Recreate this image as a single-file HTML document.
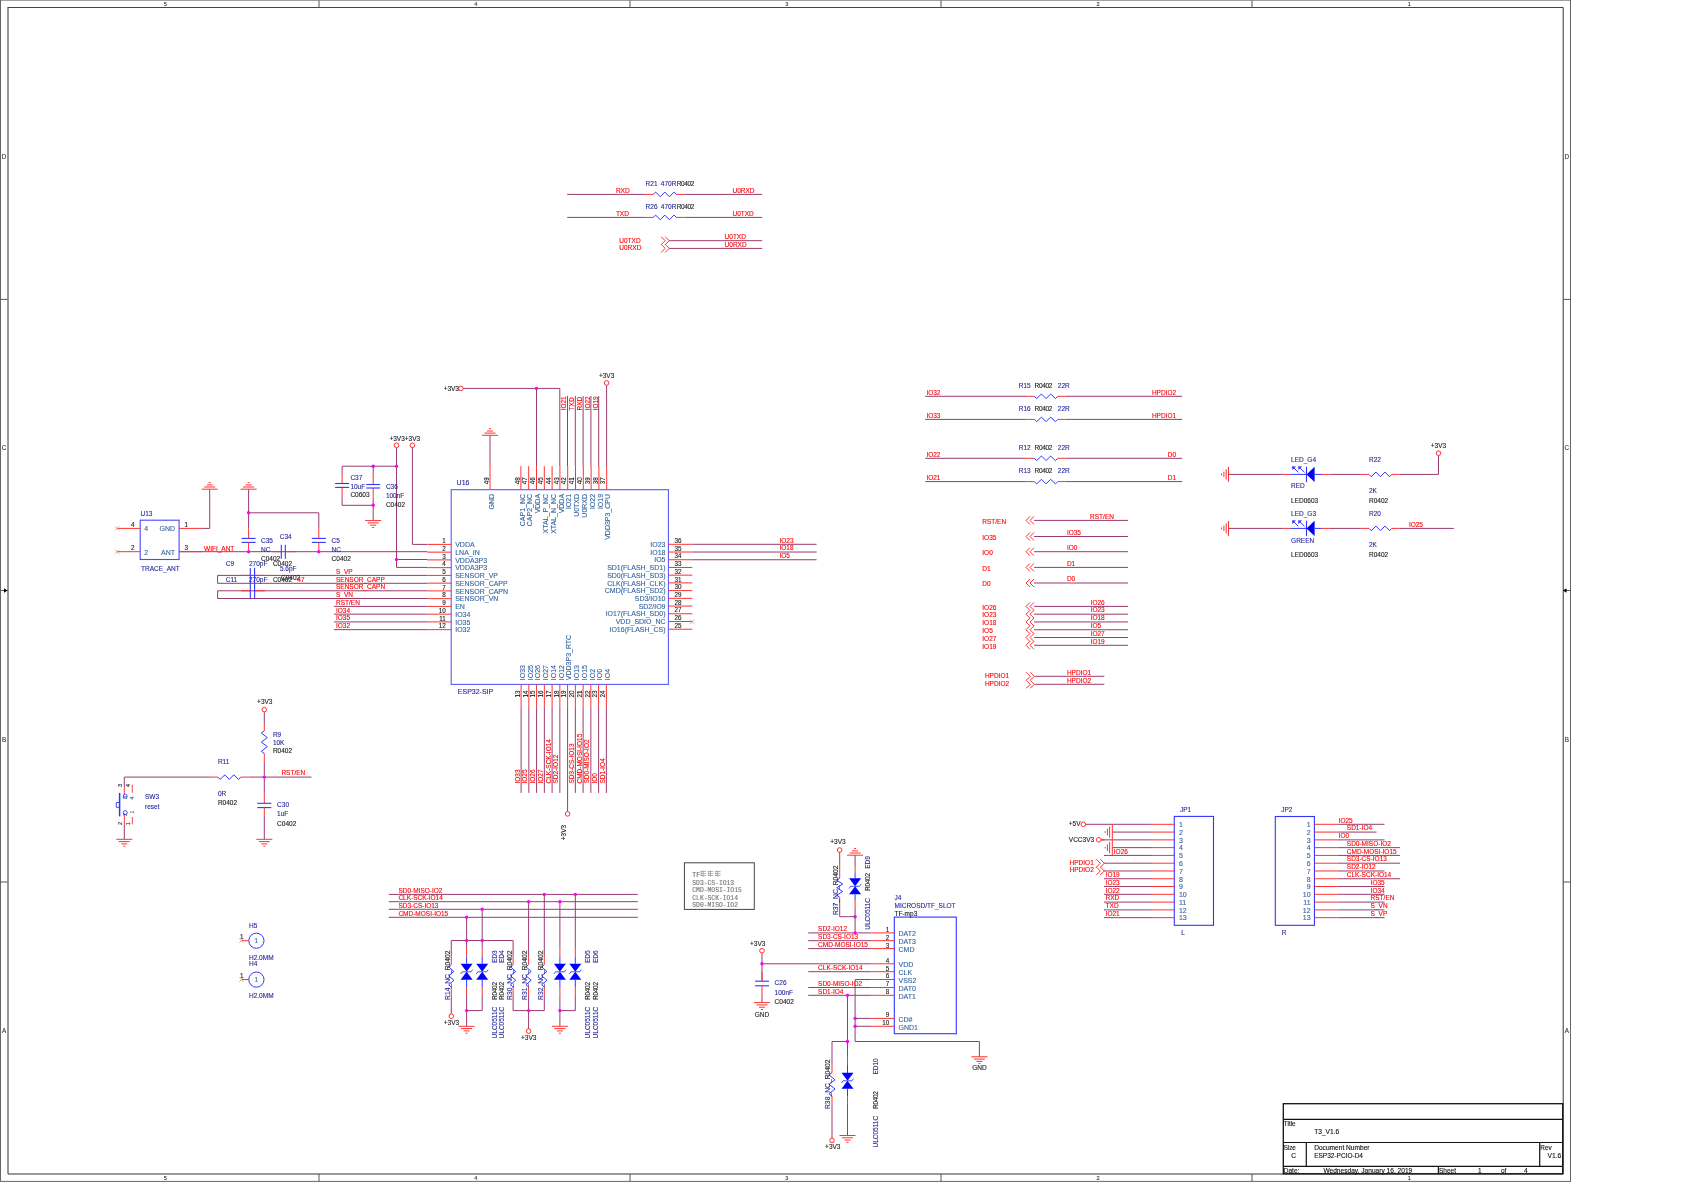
<!DOCTYPE html>
<html><head><meta charset="utf-8"><style>
html,body{margin:0;padding:0;background:#fff;width:1684px;height:1190px;overflow:hidden}
svg{display:block;will-change:transform}
text{font-family:"Liberation Sans",sans-serif;stroke-width:0.12px}
</style></head><body>
<svg width="1684" height="1190" viewBox="0 0 1684 1190" shape-rendering="auto">
<rect width="1684" height="1190" fill="#fff"/>
<line x1="0" y1="0" x2="1571" y2="0" stroke="#444" stroke-width="1"/>
<line x1="0.5" y1="0" x2="0.5" y2="1181.5" stroke="#666" stroke-width="1"/>
<line x1="1570.5" y1="0" x2="1570.5" y2="1181.5" stroke="#666" stroke-width="1"/>
<line x1="0" y1="1181.4" x2="1571" y2="1181.4" stroke="#666" stroke-width="1"/>
<line x1="7.5" y1="7.5" x2="1563.2" y2="7.5" stroke="#444" stroke-width="1"/>
<line x1="8" y1="7.5" x2="8" y2="1174" stroke="#333" stroke-width="1"/>
<line x1="1563.2" y1="7.5" x2="1563.2" y2="1174" stroke="#333" stroke-width="1"/>
<line x1="8" y1="1174" x2="1563.2" y2="1174" stroke="#333" stroke-width="1"/>
<line x1="319" y1="0.5" x2="319" y2="7.5" stroke="#555" stroke-width="1"/>
<line x1="319" y1="1174" x2="319" y2="1181.5" stroke="#555" stroke-width="1"/>
<line x1="630" y1="0.5" x2="630" y2="7.5" stroke="#555" stroke-width="1"/>
<line x1="630" y1="1174" x2="630" y2="1181.5" stroke="#555" stroke-width="1"/>
<line x1="941" y1="0.5" x2="941" y2="7.5" stroke="#555" stroke-width="1"/>
<line x1="941" y1="1174" x2="941" y2="1181.5" stroke="#555" stroke-width="1"/>
<line x1="1252" y1="0.5" x2="1252" y2="7.5" stroke="#555" stroke-width="1"/>
<line x1="1252" y1="1174" x2="1252" y2="1181.5" stroke="#555" stroke-width="1"/>
<line x1="0.5" y1="299.4" x2="7.5" y2="299.4" stroke="#555" stroke-width="1"/>
<line x1="1563" y1="299.4" x2="1570.5" y2="299.4" stroke="#555" stroke-width="1"/>
<line x1="0.5" y1="882" x2="7.5" y2="882" stroke="#555" stroke-width="1"/>
<line x1="1563" y1="882" x2="1570.5" y2="882" stroke="#555" stroke-width="1"/>
<line x1="0.5" y1="590.5" x2="7.5" y2="590.5" stroke="#555" stroke-width="1"/>
<path d="M4 588.2 L7.5 590.5 L4 592.8 Z" fill="#000"/>
<line x1="1563" y1="590.5" x2="1570.5" y2="590.5" stroke="#555" stroke-width="1"/>
<path d="M1566.5 588.2 L1563 590.5 L1566.5 592.8 Z" fill="#000"/>
<text x="165.4" y="6.2" fill="#333" stroke="#333" font-size="5.5" text-anchor="middle">5</text>
<text x="165.4" y="1180.2" fill="#333" stroke="#333" font-size="5.5" text-anchor="middle">5</text>
<text x="475.8" y="6.2" fill="#333" stroke="#333" font-size="5.5" text-anchor="middle">4</text>
<text x="475.8" y="1180.2" fill="#333" stroke="#333" font-size="5.5" text-anchor="middle">4</text>
<text x="786.8" y="6.2" fill="#333" stroke="#333" font-size="5.5" text-anchor="middle">3</text>
<text x="786.8" y="1180.2" fill="#333" stroke="#333" font-size="5.5" text-anchor="middle">3</text>
<text x="1098" y="6.2" fill="#333" stroke="#333" font-size="5.5" text-anchor="middle">2</text>
<text x="1098" y="1180.2" fill="#333" stroke="#333" font-size="5.5" text-anchor="middle">2</text>
<text x="1409.2" y="6.2" fill="#333" stroke="#333" font-size="5.5" text-anchor="middle">1</text>
<text x="1409.2" y="1180.2" fill="#333" stroke="#333" font-size="5.5" text-anchor="middle">1</text>
<text x="4.1" y="158.8" fill="#333" stroke="#333" font-size="6.3" text-anchor="middle">D</text>
<text x="1566.9" y="158.8" fill="#333" stroke="#333" font-size="6.3" text-anchor="middle">D</text>
<text x="4.1" y="450.1" fill="#333" stroke="#333" font-size="6.3" text-anchor="middle">C</text>
<text x="1566.9" y="450.1" fill="#333" stroke="#333" font-size="6.3" text-anchor="middle">C</text>
<text x="4.1" y="741.8" fill="#333" stroke="#333" font-size="6.3" text-anchor="middle">B</text>
<text x="1566.9" y="741.8" fill="#333" stroke="#333" font-size="6.3" text-anchor="middle">B</text>
<text x="4.1" y="1033.1" fill="#333" stroke="#333" font-size="6.3" text-anchor="middle">A</text>
<text x="1566.9" y="1033.1" fill="#333" stroke="#333" font-size="6.3" text-anchor="middle">A</text>
<rect x="1283.3" y="1103.7" width="279.4" height="70.1" fill="none" stroke="#111" stroke-width="1.3"/>
<line x1="1283.3" y1="1119.3" x2="1562.7" y2="1119.3" stroke="#111" stroke-width="1.2"/>
<line x1="1283.3" y1="1142.5" x2="1562.7" y2="1142.5" stroke="#111" stroke-width="1.2"/>
<line x1="1283.3" y1="1166.4" x2="1562.7" y2="1166.4" stroke="#111" stroke-width="1.2"/>
<line x1="1306.3" y1="1142.5" x2="1306.3" y2="1166.4" stroke="#111" stroke-width="1.2"/>
<line x1="1539.7" y1="1142.5" x2="1539.7" y2="1166.4" stroke="#111" stroke-width="1.2"/>
<line x1="1438.4" y1="1166.4" x2="1438.4" y2="1173.8" stroke="#111" stroke-width="1.2"/>
<text x="1283.8" y="1125.9" fill="#111" stroke="#111" font-size="6.4" stroke-width="0.4">Title</text>
<text x="1314.2" y="1134" fill="#111" stroke="#111" font-size="6.6" stroke-width="0.4">T3_V1.6</text>
<text x="1283.8" y="1149.7" fill="#111" stroke="#111" font-size="6.4" stroke-width="0.4" letter-spacing="-0.15">Size</text>
<text x="1291.2" y="1157.6" fill="#111" stroke="#111" font-size="6.6" stroke-width="0.4">C</text>
<text x="1314.2" y="1149.7" fill="#111" stroke="#111" font-size="6.6" stroke-width="0.4">Document Number</text>
<text x="1314.2" y="1157.6" fill="#111" stroke="#111" font-size="6.5" stroke-width="0.4">ESP32-PCIO-D4</text>
<text x="1540.3" y="1149.7" fill="#111" stroke="#111" font-size="6.4" stroke-width="0.4">Rev</text>
<text x="1561.3" y="1157.6" fill="#111" stroke="#111" font-size="6.7" text-anchor="end" stroke-width="0.4">V1.6</text>
<text x="1283.8" y="1172.7" fill="#111" stroke="#111" font-size="6.5" stroke-width="0.4">Date:</text>
<text x="1323.4" y="1172.7" fill="#111" stroke="#111" font-size="6.6" stroke-width="0.4">Wednesday, January 16, 2019</text>
<text x="1439" y="1172.7" fill="#111" stroke="#111" font-size="6.5" stroke-width="0.4">Sheet</text>
<text x="1478" y="1172.7" fill="#111" stroke="#111" font-size="6.5" stroke-width="0.4">1</text>
<text x="1501" y="1172.7" fill="#111" stroke="#111" font-size="6.5" stroke-width="0.4">of</text>
<text x="1524" y="1172.7" fill="#111" stroke="#111" font-size="6.5" stroke-width="0.4">4</text>
<polyline points="567.2,194.4 645.6,194.4" fill="none" stroke="#9a3a6e" stroke-width="1"/>
<polyline points="684.5,194.4 762.2,194.4" fill="none" stroke="#9a3a6e" stroke-width="1"/>
<line x1="645.6" y1="194.4" x2="653.3" y2="194.4" stroke="#ff3030" stroke-width="1"/>
<line x1="676.4" y1="194.4" x2="684.5" y2="194.4" stroke="#ff3030" stroke-width="1"/>
<polyline points="653.3,194.4 655.56,192.1 660.35,196.7 664.85,192.1 669.35,196.7 674.14,192.1 676.4,194.4" fill="none" stroke="#3434ff" stroke-width="1"/>
<text x="615.9" y="192.9" fill="#ff0000" stroke="#ff0000" font-size="6.5">RXD</text>
<text x="732.5" y="192.9" fill="#ff0000" stroke="#ff0000" font-size="6.5">U0RXD</text>
<text x="645.6" y="185.7" fill="#2a2a9a" stroke="#2a2a9a" font-size="6.5">R21</text>
<text x="660.8" y="185.7" fill="#2a2a9a" stroke="#2a2a9a" font-size="6.5">470R</text>
<text x="676.7" y="185.7" fill="#222" stroke="#222" font-size="6.5" letter-spacing="-0.35">R0402</text>
<polyline points="567.2,217.4 645.6,217.4" fill="none" stroke="#9a3a6e" stroke-width="1"/>
<polyline points="684.5,217.4 762.2,217.4" fill="none" stroke="#9a3a6e" stroke-width="1"/>
<line x1="645.6" y1="217.4" x2="653.3" y2="217.4" stroke="#ff3030" stroke-width="1"/>
<line x1="676.4" y1="217.4" x2="684.5" y2="217.4" stroke="#ff3030" stroke-width="1"/>
<polyline points="653.3,217.4 655.56,215.1 660.35,219.7 664.85,215.1 669.35,219.7 674.14,215.1 676.4,217.4" fill="none" stroke="#3434ff" stroke-width="1"/>
<text x="615.9" y="215.9" fill="#ff0000" stroke="#ff0000" font-size="6.5">TXD</text>
<text x="732.5" y="215.9" fill="#ff0000" stroke="#ff0000" font-size="6.5">U0TXD</text>
<text x="645.6" y="208.7" fill="#2a2a9a" stroke="#2a2a9a" font-size="6.5">R26</text>
<text x="660.8" y="208.7" fill="#2a2a9a" stroke="#2a2a9a" font-size="6.5">470R</text>
<text x="676.7" y="208.7" fill="#222" stroke="#222" font-size="6.5" letter-spacing="-0.35">R0402</text>
<polyline points="669,240.7 762.2,240.7" fill="none" stroke="#9a3a6e" stroke-width="1"/>
<polyline points="669,248.4 762.2,248.4" fill="none" stroke="#9a3a6e" stroke-width="1"/>
<polyline points="661.2,236.7 665.2,240.7 661.2,244.7" fill="none" stroke="#ff3030" stroke-width="1"/>
<polyline points="665.2,236.7 669.2,240.7 665.2,244.7" fill="none" stroke="#ff3030" stroke-width="1"/>
<polyline points="661.2,244.4 665.2,248.4 661.2,252.4" fill="none" stroke="#ff3030" stroke-width="1"/>
<polyline points="665.2,244.4 669.2,248.4 665.2,252.4" fill="none" stroke="#ff3030" stroke-width="1"/>
<text x="619.3" y="242.5" fill="#ff0000" stroke="#ff0000" font-size="6.5">U0TXD</text>
<text x="619.3" y="250.3" fill="#ff0000" stroke="#ff0000" font-size="6.5">U0RXD</text>
<text x="724.6" y="239.2" fill="#ff0000" stroke="#ff0000" font-size="6.5">U0TXD</text>
<text x="724.6" y="246.6" fill="#ff0000" stroke="#ff0000" font-size="6.5">U0RXD</text>
<rect x="451.2" y="489.7" width="217.2" height="194.7" fill="none" stroke="#5a5aff" stroke-width="1.1"/>
<text x="456.6" y="485.3" fill="#2a2a9a" stroke="#2a2a9a" font-size="7">U16</text>
<text x="457.8" y="693.6" fill="#2a2a9a" stroke="#2a2a9a" font-size="7">ESP32-SIP</text>
<line x1="427.4" y1="544.4" x2="451.2" y2="544.4" stroke="#ff3030" stroke-width="1"/>
<text x="445.8" y="543" fill="#222" stroke="#222" font-size="6.3" text-anchor="end">1</text>
<text x="455.2" y="547" fill="#3766a0" stroke="#3766a0" font-size="7">VDDA</text>
<line x1="427.4" y1="552.15" x2="451.2" y2="552.15" stroke="#ff3030" stroke-width="1"/>
<text x="445.8" y="550.75" fill="#222" stroke="#222" font-size="6.3" text-anchor="end">2</text>
<text x="455.2" y="554.75" fill="#3766a0" stroke="#3766a0" font-size="7">LNA_IN</text>
<line x1="427.4" y1="559.9" x2="451.2" y2="559.9" stroke="#ff3030" stroke-width="1"/>
<text x="445.8" y="558.5" fill="#222" stroke="#222" font-size="6.3" text-anchor="end">3</text>
<text x="455.2" y="562.5" fill="#3766a0" stroke="#3766a0" font-size="7">VDDA3P3</text>
<line x1="427.4" y1="567.65" x2="451.2" y2="567.65" stroke="#ff3030" stroke-width="1"/>
<text x="445.8" y="566.25" fill="#222" stroke="#222" font-size="6.3" text-anchor="end">4</text>
<text x="455.2" y="570.25" fill="#3766a0" stroke="#3766a0" font-size="7">VDDA3P3</text>
<line x1="427.4" y1="575.4" x2="451.2" y2="575.4" stroke="#ff3030" stroke-width="1"/>
<text x="445.8" y="574" fill="#222" stroke="#222" font-size="6.3" text-anchor="end">5</text>
<text x="455.2" y="578" fill="#3766a0" stroke="#3766a0" font-size="7">SENSOR_VP</text>
<line x1="427.4" y1="583.15" x2="451.2" y2="583.15" stroke="#ff3030" stroke-width="1"/>
<text x="445.8" y="581.75" fill="#222" stroke="#222" font-size="6.3" text-anchor="end">6</text>
<text x="455.2" y="585.75" fill="#3766a0" stroke="#3766a0" font-size="7">SENSOR_CAPP</text>
<line x1="427.4" y1="590.9" x2="451.2" y2="590.9" stroke="#ff3030" stroke-width="1"/>
<text x="445.8" y="589.5" fill="#222" stroke="#222" font-size="6.3" text-anchor="end">7</text>
<text x="455.2" y="593.5" fill="#3766a0" stroke="#3766a0" font-size="7">SENSOR_CAPN</text>
<line x1="427.4" y1="598.65" x2="451.2" y2="598.65" stroke="#ff3030" stroke-width="1"/>
<text x="445.8" y="597.25" fill="#222" stroke="#222" font-size="6.3" text-anchor="end">8</text>
<text x="455.2" y="601.25" fill="#3766a0" stroke="#3766a0" font-size="7">SENSOR_VN</text>
<line x1="427.4" y1="606.4" x2="451.2" y2="606.4" stroke="#ff3030" stroke-width="1"/>
<text x="445.8" y="605" fill="#222" stroke="#222" font-size="6.3" text-anchor="end">9</text>
<text x="455.2" y="609" fill="#3766a0" stroke="#3766a0" font-size="7">EN</text>
<line x1="427.4" y1="614.15" x2="451.2" y2="614.15" stroke="#ff3030" stroke-width="1"/>
<text x="445.8" y="612.75" fill="#222" stroke="#222" font-size="6.3" text-anchor="end">10</text>
<text x="455.2" y="616.75" fill="#3766a0" stroke="#3766a0" font-size="7">IO34</text>
<line x1="427.4" y1="621.9" x2="451.2" y2="621.9" stroke="#ff3030" stroke-width="1"/>
<text x="445.8" y="620.5" fill="#222" stroke="#222" font-size="6.3" text-anchor="end">11</text>
<text x="455.2" y="624.5" fill="#3766a0" stroke="#3766a0" font-size="7">IO35</text>
<line x1="427.4" y1="629.65" x2="451.2" y2="629.65" stroke="#ff3030" stroke-width="1"/>
<text x="445.8" y="628.25" fill="#222" stroke="#222" font-size="6.3" text-anchor="end">12</text>
<text x="455.2" y="632.25" fill="#3766a0" stroke="#3766a0" font-size="7">IO32</text>
<line x1="668.4" y1="544.3" x2="692.3" y2="544.3" stroke="#ff3030" stroke-width="1"/>
<text x="674.6" y="542.9" fill="#222" stroke="#222" font-size="6.3">36</text>
<text x="665.5" y="546.9" fill="#3766a0" stroke="#3766a0" font-size="7" text-anchor="end">IO23</text>
<line x1="668.4" y1="552.02" x2="692.3" y2="552.02" stroke="#ff3030" stroke-width="1"/>
<text x="674.6" y="550.62" fill="#222" stroke="#222" font-size="6.3">35</text>
<text x="665.5" y="554.62" fill="#3766a0" stroke="#3766a0" font-size="7" text-anchor="end">IO18</text>
<line x1="668.4" y1="559.74" x2="692.3" y2="559.74" stroke="#ff3030" stroke-width="1"/>
<text x="674.6" y="558.34" fill="#222" stroke="#222" font-size="6.3">34</text>
<text x="665.5" y="562.34" fill="#3766a0" stroke="#3766a0" font-size="7" text-anchor="end">IO5</text>
<line x1="668.4" y1="567.46" x2="692.3" y2="567.46" stroke="#ff3030" stroke-width="1"/>
<text x="674.6" y="566.06" fill="#222" stroke="#222" font-size="6.3">33</text>
<text x="665.5" y="570.06" fill="#3766a0" stroke="#3766a0" font-size="7" text-anchor="end">SD1(FLASH_SD1)</text>
<line x1="668.4" y1="575.18" x2="692.3" y2="575.18" stroke="#ff3030" stroke-width="1"/>
<text x="674.6" y="573.78" fill="#222" stroke="#222" font-size="6.3">32</text>
<text x="665.5" y="577.78" fill="#3766a0" stroke="#3766a0" font-size="7" text-anchor="end">SD0(FLASH_SD3)</text>
<line x1="668.4" y1="582.9" x2="692.3" y2="582.9" stroke="#ff3030" stroke-width="1"/>
<text x="674.6" y="581.5" fill="#222" stroke="#222" font-size="6.3">31</text>
<text x="665.5" y="585.5" fill="#3766a0" stroke="#3766a0" font-size="7" text-anchor="end">CLK(FLASH_CLK)</text>
<line x1="668.4" y1="590.62" x2="692.3" y2="590.62" stroke="#ff3030" stroke-width="1"/>
<text x="674.6" y="589.22" fill="#222" stroke="#222" font-size="6.3">30</text>
<text x="665.5" y="593.22" fill="#3766a0" stroke="#3766a0" font-size="7" text-anchor="end">CMD(FLASH_SD2)</text>
<line x1="668.4" y1="598.34" x2="692.3" y2="598.34" stroke="#ff3030" stroke-width="1"/>
<text x="674.6" y="596.94" fill="#222" stroke="#222" font-size="6.3">29</text>
<text x="665.5" y="600.94" fill="#3766a0" stroke="#3766a0" font-size="7" text-anchor="end">SD3/IO10</text>
<line x1="668.4" y1="606.06" x2="692.3" y2="606.06" stroke="#ff3030" stroke-width="1"/>
<text x="674.6" y="604.66" fill="#222" stroke="#222" font-size="6.3">28</text>
<text x="665.5" y="608.66" fill="#3766a0" stroke="#3766a0" font-size="7" text-anchor="end">SD2/IO9</text>
<line x1="668.4" y1="613.78" x2="692.3" y2="613.78" stroke="#ff3030" stroke-width="1"/>
<text x="674.6" y="612.38" fill="#222" stroke="#222" font-size="6.3">27</text>
<text x="665.5" y="616.38" fill="#3766a0" stroke="#3766a0" font-size="7" text-anchor="end">IO17(FLASH_SD0)</text>
<line x1="668.4" y1="621.5" x2="692.3" y2="621.5" stroke="#ff3030" stroke-width="1"/>
<text x="674.6" y="620.1" fill="#222" stroke="#222" font-size="6.3">26</text>
<text x="665.5" y="624.1" fill="#3766a0" stroke="#3766a0" font-size="7" text-anchor="end">VDD_SDIO_NC</text>
<line x1="668.4" y1="629.22" x2="692.3" y2="629.22" stroke="#ff3030" stroke-width="1"/>
<text x="674.6" y="627.82" fill="#222" stroke="#222" font-size="6.3">25</text>
<text x="665.5" y="631.82" fill="#3766a0" stroke="#3766a0" font-size="7" text-anchor="end">IO16(FLASH_CS)</text>
<line x1="690.1" y1="619.7" x2="694.5" y2="624.1" stroke="#c8a080" stroke-width="0.8"/>
<line x1="690.1" y1="624.1" x2="694.5" y2="619.7" stroke="#c8a080" stroke-width="0.8"/>
<line x1="490" y1="466.2" x2="490" y2="489.7" stroke="#ff3030" stroke-width="1"/>
<text x="488.8" y="484.2" fill="#222" stroke="#222" font-size="6.3" transform="rotate(-90 488.8 484.2)">49</text>
<text x="493.8" y="493.9" fill="#3766a0" stroke="#3766a0" font-size="7" text-anchor="end" transform="rotate(-90 493.8 493.9)">GND</text>
<line x1="520.9" y1="466.2" x2="520.9" y2="489.7" stroke="#ff3030" stroke-width="1"/>
<text x="519.7" y="484.2" fill="#222" stroke="#222" font-size="6.3" transform="rotate(-90 519.7 484.2)">48</text>
<text x="524.7" y="493.9" fill="#3766a0" stroke="#3766a0" font-size="7" text-anchor="end" transform="rotate(-90 524.7 493.9)">CAP1_NC</text>
<line x1="528.7" y1="466.2" x2="528.7" y2="489.7" stroke="#ff3030" stroke-width="1"/>
<text x="527.5" y="484.2" fill="#222" stroke="#222" font-size="6.3" transform="rotate(-90 527.5 484.2)">47</text>
<text x="532.5" y="493.9" fill="#3766a0" stroke="#3766a0" font-size="7" text-anchor="end" transform="rotate(-90 532.5 493.9)">CAP2_NC</text>
<line x1="536.5" y1="466.2" x2="536.5" y2="489.7" stroke="#ff3030" stroke-width="1"/>
<text x="535.3" y="484.2" fill="#222" stroke="#222" font-size="6.3" transform="rotate(-90 535.3 484.2)">46</text>
<text x="540.3" y="493.9" fill="#3766a0" stroke="#3766a0" font-size="7" text-anchor="end" transform="rotate(-90 540.3 493.9)">VDDA</text>
<line x1="544.3" y1="466.2" x2="544.3" y2="489.7" stroke="#ff3030" stroke-width="1"/>
<text x="543.1" y="484.2" fill="#222" stroke="#222" font-size="6.3" transform="rotate(-90 543.1 484.2)">45</text>
<text x="548.1" y="493.9" fill="#3766a0" stroke="#3766a0" font-size="7" text-anchor="end" transform="rotate(-90 548.1 493.9)">XTAL_P_NC</text>
<line x1="552.1" y1="466.2" x2="552.1" y2="489.7" stroke="#ff3030" stroke-width="1"/>
<text x="550.9" y="484.2" fill="#222" stroke="#222" font-size="6.3" transform="rotate(-90 550.9 484.2)">44</text>
<text x="555.9" y="493.9" fill="#3766a0" stroke="#3766a0" font-size="7" text-anchor="end" transform="rotate(-90 555.9 493.9)">XTAL_N_NC</text>
<line x1="559.9" y1="466.2" x2="559.9" y2="489.7" stroke="#ff3030" stroke-width="1"/>
<text x="558.7" y="484.2" fill="#222" stroke="#222" font-size="6.3" transform="rotate(-90 558.7 484.2)">43</text>
<text x="563.7" y="493.9" fill="#3766a0" stroke="#3766a0" font-size="7" text-anchor="end" transform="rotate(-90 563.7 493.9)">VDDA</text>
<line x1="567.7" y1="466.2" x2="567.7" y2="489.7" stroke="#ff3030" stroke-width="1"/>
<text x="566.5" y="484.2" fill="#222" stroke="#222" font-size="6.3" transform="rotate(-90 566.5 484.2)">42</text>
<text x="571.5" y="493.9" fill="#3766a0" stroke="#3766a0" font-size="7" text-anchor="end" transform="rotate(-90 571.5 493.9)">IO21</text>
<line x1="575.5" y1="466.2" x2="575.5" y2="489.7" stroke="#ff3030" stroke-width="1"/>
<text x="574.3" y="484.2" fill="#222" stroke="#222" font-size="6.3" transform="rotate(-90 574.3 484.2)">41</text>
<text x="579.3" y="493.9" fill="#3766a0" stroke="#3766a0" font-size="7" text-anchor="end" transform="rotate(-90 579.3 493.9)">U0TXD</text>
<line x1="583.3" y1="466.2" x2="583.3" y2="489.7" stroke="#ff3030" stroke-width="1"/>
<text x="582.1" y="484.2" fill="#222" stroke="#222" font-size="6.3" transform="rotate(-90 582.1 484.2)">40</text>
<text x="587.1" y="493.9" fill="#3766a0" stroke="#3766a0" font-size="7" text-anchor="end" transform="rotate(-90 587.1 493.9)">U0RXD</text>
<line x1="591.1" y1="466.2" x2="591.1" y2="489.7" stroke="#ff3030" stroke-width="1"/>
<text x="589.9" y="484.2" fill="#222" stroke="#222" font-size="6.3" transform="rotate(-90 589.9 484.2)">39</text>
<text x="594.9" y="493.9" fill="#3766a0" stroke="#3766a0" font-size="7" text-anchor="end" transform="rotate(-90 594.9 493.9)">IO22</text>
<line x1="598.9" y1="466.2" x2="598.9" y2="489.7" stroke="#ff3030" stroke-width="1"/>
<text x="597.7" y="484.2" fill="#222" stroke="#222" font-size="6.3" transform="rotate(-90 597.7 484.2)">38</text>
<text x="602.7" y="493.9" fill="#3766a0" stroke="#3766a0" font-size="7" text-anchor="end" transform="rotate(-90 602.7 493.9)">IO19</text>
<line x1="606.7" y1="466.2" x2="606.7" y2="489.7" stroke="#ff3030" stroke-width="1"/>
<text x="605.5" y="484.2" fill="#222" stroke="#222" font-size="6.3" transform="rotate(-90 605.5 484.2)">37</text>
<text x="610.5" y="493.9" fill="#3766a0" stroke="#3766a0" font-size="7" text-anchor="end" transform="rotate(-90 610.5 493.9)">VDD3P3_CPU</text>
<line x1="521.1" y1="684.4" x2="521.1" y2="707.5" stroke="#ff3030" stroke-width="1"/>
<text x="519.8" y="697.4" fill="#222" stroke="#222" font-size="6.3" transform="rotate(-90 519.8 697.4)">13</text>
<text x="524.9" y="680.2" fill="#3766a0" stroke="#3766a0" font-size="7" transform="rotate(-90 524.9 680.2)">IO33</text>
<line x1="528.85" y1="684.4" x2="528.85" y2="707.5" stroke="#ff3030" stroke-width="1"/>
<text x="527.55" y="697.4" fill="#222" stroke="#222" font-size="6.3" transform="rotate(-90 527.55 697.4)">14</text>
<text x="532.65" y="680.2" fill="#3766a0" stroke="#3766a0" font-size="7" transform="rotate(-90 532.65 680.2)">IO25</text>
<line x1="536.6" y1="684.4" x2="536.6" y2="707.5" stroke="#ff3030" stroke-width="1"/>
<text x="535.3" y="697.4" fill="#222" stroke="#222" font-size="6.3" transform="rotate(-90 535.3 697.4)">15</text>
<text x="540.4" y="680.2" fill="#3766a0" stroke="#3766a0" font-size="7" transform="rotate(-90 540.4 680.2)">IO26</text>
<line x1="544.35" y1="684.4" x2="544.35" y2="707.5" stroke="#ff3030" stroke-width="1"/>
<text x="543.05" y="697.4" fill="#222" stroke="#222" font-size="6.3" transform="rotate(-90 543.05 697.4)">16</text>
<text x="548.15" y="680.2" fill="#3766a0" stroke="#3766a0" font-size="7" transform="rotate(-90 548.15 680.2)">IO27</text>
<line x1="552.1" y1="684.4" x2="552.1" y2="707.5" stroke="#ff3030" stroke-width="1"/>
<text x="550.8" y="697.4" fill="#222" stroke="#222" font-size="6.3" transform="rotate(-90 550.8 697.4)">17</text>
<text x="555.9" y="680.2" fill="#3766a0" stroke="#3766a0" font-size="7" transform="rotate(-90 555.9 680.2)">IO14</text>
<line x1="559.85" y1="684.4" x2="559.85" y2="707.5" stroke="#ff3030" stroke-width="1"/>
<text x="558.55" y="697.4" fill="#222" stroke="#222" font-size="6.3" transform="rotate(-90 558.55 697.4)">18</text>
<text x="563.65" y="680.2" fill="#3766a0" stroke="#3766a0" font-size="7" transform="rotate(-90 563.65 680.2)">IO12</text>
<line x1="567.6" y1="684.4" x2="567.6" y2="707.5" stroke="#ff3030" stroke-width="1"/>
<text x="566.3" y="697.4" fill="#222" stroke="#222" font-size="6.3" transform="rotate(-90 566.3 697.4)">19</text>
<text x="571.4" y="680.2" fill="#3766a0" stroke="#3766a0" font-size="7" transform="rotate(-90 571.4 680.2)">VDD3P3_RTC</text>
<line x1="575.35" y1="684.4" x2="575.35" y2="707.5" stroke="#ff3030" stroke-width="1"/>
<text x="574.05" y="697.4" fill="#222" stroke="#222" font-size="6.3" transform="rotate(-90 574.05 697.4)">20</text>
<text x="579.15" y="680.2" fill="#3766a0" stroke="#3766a0" font-size="7" transform="rotate(-90 579.15 680.2)">IO13</text>
<line x1="583.1" y1="684.4" x2="583.1" y2="707.5" stroke="#ff3030" stroke-width="1"/>
<text x="581.8" y="697.4" fill="#222" stroke="#222" font-size="6.3" transform="rotate(-90 581.8 697.4)">21</text>
<text x="586.9" y="680.2" fill="#3766a0" stroke="#3766a0" font-size="7" transform="rotate(-90 586.9 680.2)">IO15</text>
<line x1="590.85" y1="684.4" x2="590.85" y2="707.5" stroke="#ff3030" stroke-width="1"/>
<text x="589.55" y="697.4" fill="#222" stroke="#222" font-size="6.3" transform="rotate(-90 589.55 697.4)">22</text>
<text x="594.65" y="680.2" fill="#3766a0" stroke="#3766a0" font-size="7" transform="rotate(-90 594.65 680.2)">IO2</text>
<line x1="598.6" y1="684.4" x2="598.6" y2="707.5" stroke="#ff3030" stroke-width="1"/>
<text x="597.3" y="697.4" fill="#222" stroke="#222" font-size="6.3" transform="rotate(-90 597.3 697.4)">23</text>
<text x="602.4" y="680.2" fill="#3766a0" stroke="#3766a0" font-size="7" transform="rotate(-90 602.4 680.2)">IO0</text>
<line x1="606.35" y1="684.4" x2="606.35" y2="707.5" stroke="#ff3030" stroke-width="1"/>
<text x="605.05" y="697.4" fill="#222" stroke="#222" font-size="6.3" transform="rotate(-90 605.05 697.4)">24</text>
<text x="610.15" y="680.2" fill="#3766a0" stroke="#3766a0" font-size="7" transform="rotate(-90 610.15 680.2)">IO4</text>
<polyline points="463.3,388.4 559.8,388.4 559.8,466.2" fill="none" stroke="#9a3a6e" stroke-width="1"/>
<circle cx="460.9" cy="388.4" r="2.3" fill="none" stroke="#ff3030" stroke-width="1"/>
<text x="459" y="390.6" fill="#222" stroke="#222" font-size="6.5" text-anchor="end">+3V3</text>
<polyline points="536.5,388.4 536.5,466.2" fill="none" stroke="#9a3a6e" stroke-width="1"/>
<circle cx="536.5" cy="388.4" r="1.7" fill="#ff00ff"/>
<polyline points="490,435.3 490,466.2" fill="none" stroke="#9a3a6e" stroke-width="1"/>
<line x1="482" y1="435.3" x2="498" y2="435.3" stroke="#ff3030" stroke-width="1"/>
<line x1="484.5" y1="433.1" x2="495.5" y2="433.1" stroke="#ff3030" stroke-width="1"/>
<line x1="487" y1="431" x2="493" y2="431" stroke="#ff3030" stroke-width="1"/>
<line x1="489" y1="428.7" x2="491" y2="428.7" stroke="#ff3030" stroke-width="1"/>
<polyline points="567.5,396 567.5,466.2" fill="none" stroke="#9a3a6e" stroke-width="1"/>
<text x="566.5" y="410.4" fill="#ff0000" stroke="#ff0000" font-size="6.5" transform="rotate(-90 566.5 410.4)">IO21</text>
<polyline points="575.3,396 575.3,466.2" fill="none" stroke="#9a3a6e" stroke-width="1"/>
<text x="574.3" y="410.4" fill="#ff0000" stroke="#ff0000" font-size="6.5" transform="rotate(-90 574.3 410.4)">TXD</text>
<polyline points="583.1,396 583.1,466.2" fill="none" stroke="#9a3a6e" stroke-width="1"/>
<text x="582.1" y="410.4" fill="#ff0000" stroke="#ff0000" font-size="6.5" transform="rotate(-90 582.1 410.4)">RXD</text>
<polyline points="590.9,396 590.9,466.2" fill="none" stroke="#9a3a6e" stroke-width="1"/>
<text x="589.9" y="410.4" fill="#ff0000" stroke="#ff0000" font-size="6.5" transform="rotate(-90 589.9 410.4)">IO22</text>
<polyline points="598.7,396 598.7,466.2" fill="none" stroke="#9a3a6e" stroke-width="1"/>
<text x="597.7" y="410.4" fill="#ff0000" stroke="#ff0000" font-size="6.5" transform="rotate(-90 597.7 410.4)">IO19</text>
<polyline points="606.6,385.4 606.6,466.2" fill="none" stroke="#9a3a6e" stroke-width="1"/>
<circle cx="606.6" cy="383" r="2.3" fill="none" stroke="#ff3030" stroke-width="1"/>
<text x="606.6" y="378.2" fill="#222" stroke="#222" font-size="6.5" text-anchor="middle">+3V3</text>
<polyline points="692.3,544.3 816.6,544.3" fill="none" stroke="#9a3a6e" stroke-width="1"/>
<text x="779.5" y="542.7" fill="#ff0000" stroke="#ff0000" font-size="6.5">IO23</text>
<polyline points="692.3,552.02 816.6,552.02" fill="none" stroke="#9a3a6e" stroke-width="1"/>
<text x="779.5" y="550.42" fill="#ff0000" stroke="#ff0000" font-size="6.5">IO18</text>
<polyline points="692.3,559.74 816.6,559.74" fill="none" stroke="#9a3a6e" stroke-width="1"/>
<text x="779.5" y="558.14" fill="#ff0000" stroke="#ff0000" font-size="6.5">IO5</text>
<polyline points="521.1,707.5 521.1,792.9" fill="none" stroke="#9a3a6e" stroke-width="1"/>
<text x="519.7" y="783.5" fill="#ff0000" stroke="#ff0000" font-size="6.5" transform="rotate(-90 519.7 783.5)">IO33</text>
<polyline points="528.85,707.5 528.85,792.9" fill="none" stroke="#9a3a6e" stroke-width="1"/>
<text x="527.45" y="783.5" fill="#ff0000" stroke="#ff0000" font-size="6.5" transform="rotate(-90 527.45 783.5)">IO25</text>
<polyline points="536.6,707.5 536.6,792.9" fill="none" stroke="#9a3a6e" stroke-width="1"/>
<text x="535.2" y="783.5" fill="#ff0000" stroke="#ff0000" font-size="6.5" transform="rotate(-90 535.2 783.5)">IO26</text>
<polyline points="544.35,707.5 544.35,792.9" fill="none" stroke="#9a3a6e" stroke-width="1"/>
<text x="542.95" y="783.5" fill="#ff0000" stroke="#ff0000" font-size="6.5" transform="rotate(-90 542.95 783.5)">IO27</text>
<polyline points="552.1,707.5 552.1,792.9" fill="none" stroke="#9a3a6e" stroke-width="1"/>
<text x="550.7" y="783.5" fill="#ff0000" stroke="#ff0000" font-size="6.5" transform="rotate(-90 550.7 783.5)">CLK-SCK-IO14</text>
<polyline points="559.85,707.5 559.85,792.9" fill="none" stroke="#9a3a6e" stroke-width="1"/>
<text x="558.45" y="783.5" fill="#ff0000" stroke="#ff0000" font-size="6.5" transform="rotate(-90 558.45 783.5)">SD2-IO12</text>
<polyline points="567.6,707.5 567.6,811.6" fill="none" stroke="#9a3a6e" stroke-width="1"/>
<circle cx="567.6" cy="813.9" r="2.3" fill="none" stroke="#ff3030" stroke-width="1"/>
<text x="566.4" y="840.2" fill="#222" stroke="#222" font-size="6.5" transform="rotate(-90 566.4 840.2)">+3V3</text>
<polyline points="575.35,707.5 575.35,792.9" fill="none" stroke="#9a3a6e" stroke-width="1"/>
<text x="573.95" y="783.5" fill="#ff0000" stroke="#ff0000" font-size="6.5" transform="rotate(-90 573.95 783.5)">SD3-CS-IO13</text>
<polyline points="583.1,707.5 583.1,792.9" fill="none" stroke="#9a3a6e" stroke-width="1"/>
<text x="581.7" y="783.5" fill="#ff0000" stroke="#ff0000" font-size="6.5" transform="rotate(-90 581.7 783.5)">CMD-MOSI-IO15</text>
<polyline points="590.85,707.5 590.85,792.9" fill="none" stroke="#9a3a6e" stroke-width="1"/>
<text x="589.45" y="783.5" fill="#ff0000" stroke="#ff0000" font-size="6.5" transform="rotate(-90 589.45 783.5)">SD0-MISO-IO2</text>
<polyline points="598.6,707.5 598.6,792.9" fill="none" stroke="#9a3a6e" stroke-width="1"/>
<text x="597.2" y="783.5" fill="#ff0000" stroke="#ff0000" font-size="6.5" transform="rotate(-90 597.2 783.5)">IO0</text>
<polyline points="606.35,707.5 606.35,792.9" fill="none" stroke="#9a3a6e" stroke-width="1"/>
<text x="604.95" y="783.5" fill="#ff0000" stroke="#ff0000" font-size="6.5" transform="rotate(-90 604.95 783.5)">SD1-IO4</text>
<polyline points="412.4,447.6 412.4,544.4 427.4,544.4" fill="none" stroke="#9a3a6e" stroke-width="1"/>
<circle cx="412.4" cy="445.3" r="2.3" fill="none" stroke="#ff3030" stroke-width="1"/>
<polyline points="396.5,447.6 396.5,567.4 427.4,567.4" fill="none" stroke="#9a3a6e" stroke-width="1"/>
<polyline points="396.5,559.5 427.4,559.5" fill="none" stroke="#9a3a6e" stroke-width="1"/>
<circle cx="396.5" cy="559.5" r="1.7" fill="#ff00ff"/>
<text x="389.4" y="440.6" fill="#222" stroke="#222" font-size="6.5">+3V3+3V3</text>
<circle cx="396.5" cy="445.3" r="2.3" fill="none" stroke="#ff3030" stroke-width="1"/>
<polyline points="179.1,551.7 427.4,551.7" fill="none" stroke="#9a3a6e" stroke-width="1"/>
<polyline points="427.4,575.4 217.6,575.4 217.6,583.3 427.4,583.3" fill="none" stroke="#9a3a6e" stroke-width="1"/>
<polyline points="427.4,590.8 217.6,590.8 217.6,598.5 427.4,598.5" fill="none" stroke="#9a3a6e" stroke-width="1"/>
<text x="336" y="573.8" fill="#ff0000" stroke="#ff0000" font-size="6.5">S_VP</text>
<text x="336" y="581.55" fill="#ff0000" stroke="#ff0000" font-size="6.5">SENSOR_CAPP</text>
<text x="336" y="589.3" fill="#ff0000" stroke="#ff0000" font-size="6.5">SENSOR_CAPN</text>
<text x="336" y="597.05" fill="#ff0000" stroke="#ff0000" font-size="6.5">S_VN</text>
<text x="336" y="604.8" fill="#ff0000" stroke="#ff0000" font-size="6.5">RST/EN</text>
<text x="336" y="612.55" fill="#ff0000" stroke="#ff0000" font-size="6.5">IO34</text>
<text x="336" y="620.3" fill="#ff0000" stroke="#ff0000" font-size="6.5">IO35</text>
<text x="336" y="628.05" fill="#ff0000" stroke="#ff0000" font-size="6.5">IO32</text>
<polyline points="334,606.4 427.4,606.4" fill="none" stroke="#9a3a6e" stroke-width="1"/>
<polyline points="334,614.15 427.4,614.15" fill="none" stroke="#9a3a6e" stroke-width="1"/>
<polyline points="334,621.9 427.4,621.9" fill="none" stroke="#9a3a6e" stroke-width="1"/>
<polyline points="334,629.65 427.4,629.65" fill="none" stroke="#9a3a6e" stroke-width="1"/>
<polyline points="342.1,466.2 396.5,466.2" fill="none" stroke="#9a3a6e" stroke-width="1"/>
<circle cx="373.2" cy="466.2" r="1.7" fill="#ff00ff"/>
<circle cx="396.5" cy="466.2" r="1.7" fill="#ff00ff"/>
<polyline points="342.1,466.2 342.1,474" fill="none" stroke="#9a3a6e" stroke-width="1"/>
<line x1="342.1" y1="474" x2="342.1" y2="483.5" stroke="#ff3030" stroke-width="1"/>
<line x1="342.1" y1="487.4" x2="342.1" y2="497.6" stroke="#ff3030" stroke-width="1"/>
<line x1="335.1" y1="483.5" x2="349.1" y2="483.5" stroke="#3434ff" stroke-width="1.1"/>
<line x1="335.1" y1="487.4" x2="349.1" y2="487.4" stroke="#3434ff" stroke-width="1.1"/>
<polyline points="342.1,497.6 342.1,505.3 373.2,505.3" fill="none" stroke="#9a3a6e" stroke-width="1"/>
<polyline points="373.2,466.2 373.2,474" fill="none" stroke="#9a3a6e" stroke-width="1"/>
<line x1="373.2" y1="474" x2="373.2" y2="484.5" stroke="#ff3030" stroke-width="1"/>
<line x1="373.2" y1="488" x2="373.2" y2="497.6" stroke="#ff3030" stroke-width="1"/>
<line x1="366.2" y1="484.5" x2="380.2" y2="484.5" stroke="#3434ff" stroke-width="1.1"/>
<line x1="366.2" y1="488" x2="380.2" y2="488" stroke="#3434ff" stroke-width="1.1"/>
<polyline points="373.2,497.6 373.2,520.6" fill="none" stroke="#9a3a6e" stroke-width="1"/>
<circle cx="373.2" cy="505.3" r="1.7" fill="#ff00ff"/>
<line x1="365.2" y1="520.6" x2="381.2" y2="520.6" stroke="#ff3030" stroke-width="1"/>
<line x1="367.7" y1="522.9" x2="378.7" y2="522.9" stroke="#ff3030" stroke-width="1"/>
<line x1="370.2" y1="525.2" x2="376.2" y2="525.2" stroke="#ff3030" stroke-width="1"/>
<line x1="372.2" y1="527.5" x2="374.2" y2="527.5" stroke="#ff3030" stroke-width="1"/>
<text x="350.4" y="480.4" fill="#2a2a9a" stroke="#2a2a9a" font-size="6.5">C37</text>
<text x="350.4" y="488.6" fill="#2a2a9a" stroke="#2a2a9a" font-size="6.5">10uF</text>
<text x="350.4" y="496.7" fill="#222" stroke="#222" font-size="6.5">C0603</text>
<text x="385.9" y="488.6" fill="#2a2a9a" stroke="#2a2a9a" font-size="6.5">C36</text>
<text x="385.9" y="497.9" fill="#2a2a9a" stroke="#2a2a9a" font-size="6.5">100nF</text>
<text x="385.9" y="506.8" fill="#222" stroke="#222" font-size="6.5">C0402</text>
<rect x="140.2" y="520.2" width="38.9" height="39.3" fill="none" stroke="#4848ff" stroke-width="1.1"/>
<text x="140.5" y="515.9" fill="#2a2a9a" stroke="#2a2a9a" font-size="6.5">U13</text>
<text x="141" y="570.9" fill="#2a2a9a" stroke="#2a2a9a" font-size="6.5">TRACE_ANT</text>
<line x1="117.1" y1="528.4" x2="140.2" y2="528.4" stroke="#ff3030" stroke-width="1"/>
<line x1="117.1" y1="551.7" x2="140.2" y2="551.7" stroke="#ff3030" stroke-width="1"/>
<line x1="114.9" y1="526.2" x2="119.3" y2="530.6" stroke="#c8a080" stroke-width="0.8"/>
<line x1="114.9" y1="530.6" x2="119.3" y2="526.2" stroke="#c8a080" stroke-width="0.8"/>
<line x1="114.9" y1="549.5" x2="119.3" y2="553.9" stroke="#c8a080" stroke-width="0.8"/>
<line x1="114.9" y1="553.9" x2="119.3" y2="549.5" stroke="#c8a080" stroke-width="0.8"/>
<text x="131" y="526.6" fill="#222" stroke="#222" font-size="6.3">4</text>
<text x="131" y="549.9" fill="#222" stroke="#222" font-size="6.3">2</text>
<text x="144.2" y="531.2" fill="#3766a0" stroke="#3766a0" font-size="7">4</text>
<text x="144.2" y="554.5" fill="#3766a0" stroke="#3766a0" font-size="7">2</text>
<text x="175" y="531.2" fill="#3766a0" stroke="#3766a0" font-size="7" text-anchor="end">GND</text>
<text x="175" y="554.5" fill="#3766a0" stroke="#3766a0" font-size="7" text-anchor="end">ANT</text>
<line x1="179.1" y1="528.4" x2="202.3" y2="528.4" stroke="#ff3030" stroke-width="1"/>
<line x1="179.1" y1="551.7" x2="202.3" y2="551.7" stroke="#ff3030" stroke-width="1"/>
<text x="184.5" y="526.6" fill="#222" stroke="#222" font-size="6.3">1</text>
<text x="184.5" y="549.9" fill="#222" stroke="#222" font-size="6.3">3</text>
<polyline points="202.3,528.4 209.7,528.4 209.7,489.2" fill="none" stroke="#9a3a6e" stroke-width="1"/>
<line x1="201.7" y1="489.2" x2="217.7" y2="489.2" stroke="#ff3030" stroke-width="1"/>
<line x1="204.2" y1="487" x2="215.2" y2="487" stroke="#ff3030" stroke-width="1"/>
<line x1="206.7" y1="484.9" x2="212.7" y2="484.9" stroke="#ff3030" stroke-width="1"/>
<line x1="208.7" y1="482.6" x2="210.7" y2="482.6" stroke="#ff3030" stroke-width="1"/>
<text x="204" y="550.5" fill="#ff0000" stroke="#ff0000" font-size="6.5">WIFI_ANT</text>
<polyline points="248.6,489.2 248.6,528.4" fill="none" stroke="#9a3a6e" stroke-width="1"/>
<line x1="240.6" y1="489.2" x2="256.6" y2="489.2" stroke="#ff3030" stroke-width="1"/>
<line x1="243.1" y1="487" x2="254.1" y2="487" stroke="#ff3030" stroke-width="1"/>
<line x1="245.6" y1="484.9" x2="251.6" y2="484.9" stroke="#ff3030" stroke-width="1"/>
<line x1="247.6" y1="482.6" x2="249.6" y2="482.6" stroke="#ff3030" stroke-width="1"/>
<polyline points="248.6,512.8 318.8,512.8 318.8,528.4" fill="none" stroke="#9a3a6e" stroke-width="1"/>
<circle cx="248.6" cy="512.8" r="1.7" fill="#ff00ff"/>
<line x1="248.6" y1="528.4" x2="248.6" y2="538.4" stroke="#ff3030" stroke-width="1"/>
<line x1="241.6" y1="538.4" x2="255.6" y2="538.4" stroke="#3434ff" stroke-width="1.1"/>
<line x1="241.6" y1="542.4" x2="255.6" y2="542.4" stroke="#3434ff" stroke-width="1.1"/>
<line x1="248.6" y1="542.4" x2="248.6" y2="551.7" stroke="#ff3030" stroke-width="1"/>
<circle cx="248.6" cy="551.7" r="1.7" fill="#ff00ff"/>
<line x1="318.8" y1="528.4" x2="318.8" y2="538.4" stroke="#ff3030" stroke-width="1"/>
<line x1="311.8" y1="538.4" x2="325.8" y2="538.4" stroke="#3434ff" stroke-width="1.1"/>
<line x1="311.8" y1="542.4" x2="325.8" y2="542.4" stroke="#3434ff" stroke-width="1.1"/>
<line x1="318.8" y1="542.4" x2="318.8" y2="551.7" stroke="#ff3030" stroke-width="1"/>
<circle cx="318.8" cy="551.7" r="1.7" fill="#ff00ff"/>
<text x="261" y="542.7" fill="#2a2a9a" stroke="#2a2a9a" font-size="6.5">C35</text>
<text x="261" y="551.5" fill="#2a2a9a" stroke="#2a2a9a" font-size="6.5">NC</text>
<text x="261" y="561.2" fill="#222" stroke="#222" font-size="6.5">C0402</text>
<text x="331.6" y="542.7" fill="#2a2a9a" stroke="#2a2a9a" font-size="6.5">C5</text>
<text x="331.6" y="551.5" fill="#2a2a9a" stroke="#2a2a9a" font-size="6.5">NC</text>
<text x="331.6" y="561.2" fill="#222" stroke="#222" font-size="6.5">C0402</text>
<line x1="272.5" y1="551.7" x2="281.3" y2="551.7" stroke="#ff3030" stroke-width="1"/>
<line x1="285.3" y1="551.7" x2="295.5" y2="551.7" stroke="#ff3030" stroke-width="1"/>
<line x1="281.3" y1="544.7" x2="281.3" y2="558.7" stroke="#3434ff" stroke-width="1.1"/>
<line x1="285.3" y1="544.7" x2="285.3" y2="558.7" stroke="#3434ff" stroke-width="1.1"/>
<text x="279.8" y="538.7" fill="#2a2a9a" stroke="#2a2a9a" font-size="6.5">C34</text>
<text x="272.9" y="565.8" fill="#222" stroke="#222" font-size="6.5">C0402</text>
<text x="279.9" y="570.8" fill="#2a2a9a" stroke="#2a2a9a" font-size="6.5">5.6pF</text>
<text x="281" y="579.8" fill="#222" stroke="#222" font-size="6.5">C0402</text>
<line x1="241.3" y1="575.4" x2="250.3" y2="575.4" stroke="#ff3030" stroke-width="1"/>
<line x1="254.6" y1="575.4" x2="264.8" y2="575.4" stroke="#ff3030" stroke-width="1"/>
<line x1="241.3" y1="590.8" x2="250.3" y2="590.8" stroke="#ff3030" stroke-width="1"/>
<line x1="254.6" y1="590.8" x2="264.8" y2="590.8" stroke="#ff3030" stroke-width="1"/>
<line x1="250.3" y1="568.1" x2="250.3" y2="598.4" stroke="#3434ff" stroke-width="1.1"/>
<line x1="254.6" y1="568.1" x2="254.6" y2="598.4" stroke="#3434ff" stroke-width="1.1"/>
<text x="225.8" y="565.8" fill="#2a2a9a" stroke="#2a2a9a" font-size="6.5">C9</text>
<text x="249" y="565.8" fill="#2a2a9a" stroke="#2a2a9a" font-size="6.5">270pF</text>
<text x="225.8" y="581.6" fill="#2a2a9a" stroke="#2a2a9a" font-size="6.5">C11</text>
<text x="249" y="581.6" fill="#2a2a9a" stroke="#2a2a9a" font-size="6.5">270pF</text>
<text x="272.9" y="581.6" fill="#222" stroke="#222" font-size="6.5">C0402</text>
<text x="297.3" y="581.6" fill="#ff0000" stroke="#ff0000" font-size="6.5">47</text>
<circle cx="264.3" cy="709.6" r="2.3" fill="none" stroke="#ff3030" stroke-width="1"/>
<text x="257.1" y="704.3" fill="#222" stroke="#222" font-size="6.5">+3V3</text>
<polyline points="264.3,711.9 264.3,722.9" fill="none" stroke="#9a3a6e" stroke-width="1"/>
<line x1="264.3" y1="722.9" x2="264.3" y2="730.7" stroke="#ff3030" stroke-width="1"/>
<polyline points="264.3,730.7 261.3,732.94 267.3,737.68 261.3,742.15 267.3,746.62 261.3,751.36 264.3,753.6" fill="none" stroke="#3434ff" stroke-width="1"/>
<line x1="264.3" y1="753.6" x2="264.3" y2="761.4" stroke="#ff3030" stroke-width="1"/>
<polyline points="264.3,761.4 264.3,792.9" fill="none" stroke="#9a3a6e" stroke-width="1"/>
<text x="272.9" y="737.1" fill="#2a2a9a" stroke="#2a2a9a" font-size="6.5">R9</text>
<text x="272.9" y="745" fill="#2a2a9a" stroke="#2a2a9a" font-size="6.5">10K</text>
<text x="272.9" y="752.9" fill="#222" stroke="#222" font-size="6.5">R0402</text>
<polyline points="124.3,787.4 124.3,777.1 210,777.1" fill="none" stroke="#9a3a6e" stroke-width="1"/>
<polyline points="124.3,824.3 124.3,839.3" fill="none" stroke="#9a3a6e" stroke-width="1"/>
<polyline points="248.6,777.1 311.4,777.1" fill="none" stroke="#9a3a6e" stroke-width="1"/>
<line x1="210" y1="777.1" x2="217.9" y2="777.1" stroke="#ff3030" stroke-width="1"/>
<polyline points="217.9,777.1 220.13,779.4 224.85,774.8 229.3,779.4 233.75,774.8 238.47,779.4 240.7,777.1" fill="none" stroke="#3434ff" stroke-width="1"/>
<line x1="240.7" y1="777.1" x2="248.6" y2="777.1" stroke="#ff3030" stroke-width="1"/>
<circle cx="264.3" cy="777.1" r="1.7" fill="#ff00ff"/>
<text x="217.9" y="764.3" fill="#2a2a9a" stroke="#2a2a9a" font-size="6.5">R11</text>
<text x="217.9" y="796.4" fill="#2a2a9a" stroke="#2a2a9a" font-size="6.5">0R</text>
<text x="217.9" y="805" fill="#222" stroke="#222" font-size="6.5">R0402</text>
<text x="281.4" y="775.4" fill="#ff0000" stroke="#ff0000" font-size="6.5">RST/EN</text>
<line x1="264.3" y1="792.9" x2="264.3" y2="803.3" stroke="#ff3030" stroke-width="1"/>
<line x1="257.3" y1="803.3" x2="271.3" y2="803.3" stroke="#3434ff" stroke-width="1.1"/>
<line x1="257.3" y1="807.6" x2="271.3" y2="807.6" stroke="#3434ff" stroke-width="1.1"/>
<line x1="264.3" y1="807.6" x2="264.3" y2="815.7" stroke="#ff3030" stroke-width="1"/>
<polyline points="264.3,815.7 264.3,839.3" fill="none" stroke="#9a3a6e" stroke-width="1"/>
<line x1="256.3" y1="839.3" x2="272.3" y2="839.3" stroke="#ff3030" stroke-width="1"/>
<line x1="258.8" y1="841.6" x2="269.8" y2="841.6" stroke="#ff3030" stroke-width="1"/>
<line x1="261.3" y1="843.9" x2="267.3" y2="843.9" stroke="#ff3030" stroke-width="1"/>
<line x1="263.3" y1="846.2" x2="265.3" y2="846.2" stroke="#ff3030" stroke-width="1"/>
<text x="277.1" y="807.1" fill="#2a2a9a" stroke="#2a2a9a" font-size="6.5">C30</text>
<text x="277.1" y="816.4" fill="#2a2a9a" stroke="#2a2a9a" font-size="6.5">1uF</text>
<text x="277.1" y="825.7" fill="#222" stroke="#222" font-size="6.5">C0402</text>
<line x1="116.3" y1="839.3" x2="132.3" y2="839.3" stroke="#ff3030" stroke-width="1"/>
<line x1="118.8" y1="841.6" x2="129.8" y2="841.6" stroke="#ff3030" stroke-width="1"/>
<line x1="121.3" y1="843.9" x2="127.3" y2="843.9" stroke="#ff3030" stroke-width="1"/>
<line x1="123.3" y1="846.2" x2="125.3" y2="846.2" stroke="#ff3030" stroke-width="1"/>
<line x1="124.3" y1="787.4" x2="124.3" y2="794.3" stroke="#ff3030" stroke-width="1"/>
<line x1="124.3" y1="814.6" x2="124.3" y2="824.3" stroke="#ff3030" stroke-width="1"/>
<line x1="119.6" y1="792.9" x2="119.6" y2="816.4" stroke="#3434ff" stroke-width="1.5"/>
<polyline points="119.6,802.5 116.3,802.5 116.3,807.3 119.6,807.3" fill="none" stroke="#3434ff" stroke-width="0.9"/>
<circle cx="125.2" cy="796.2" r="2" fill="none" stroke="#3434ff" stroke-width="0.9"/>
<circle cx="125.2" cy="812.6" r="2" fill="none" stroke="#3434ff" stroke-width="0.9"/>
<line x1="132.3" y1="784.7" x2="132.3" y2="792.7" stroke="#ff3030" stroke-width="0.9"/>
<line x1="132.3" y1="817" x2="132.3" y2="824.3" stroke="#ff3030" stroke-width="0.9"/>
<text x="127.4" y="799" fill="#3766a0" stroke="#3766a0" font-size="5.5" transform="rotate(-90 127.4 799)">3</text>
<text x="127.4" y="816" fill="#3766a0" stroke="#3766a0" font-size="5.5" transform="rotate(-90 127.4 816)">2</text>
<text x="122.3" y="787" fill="#222" stroke="#222" font-size="5.5" transform="rotate(-90 122.3 787)">3</text>
<text x="122.3" y="825" fill="#222" stroke="#222" font-size="5.5" transform="rotate(-90 122.3 825)">2</text>
<text x="129.5" y="787" fill="#222" stroke="#222" font-size="5" transform="rotate(-90 129.5 787)">4</text>
<text x="129.5" y="825" fill="#222" stroke="#222" font-size="5" transform="rotate(-90 129.5 825)">1</text>
<text x="134" y="799.5" fill="#3766a0" stroke="#3766a0" font-size="5" transform="rotate(-90 134 799.5)">4</text>
<text x="134" y="813.5" fill="#3766a0" stroke="#3766a0" font-size="5" transform="rotate(-90 134 813.5)">1</text>
<text x="145" y="799.3" fill="#2a2a9a" stroke="#2a2a9a" font-size="6.5">SW3</text>
<text x="145" y="808.6" fill="#2a2a9a" stroke="#2a2a9a" font-size="6.5">reset</text>
<circle cx="256.4" cy="940.7" r="7.6" fill="none" stroke="#3434ff" stroke-width="1"/>
<line x1="241.4" y1="940.7" x2="248.8" y2="940.7" stroke="#ff3030" stroke-width="1"/>
<line x1="239.2" y1="938.5" x2="243.6" y2="942.9" stroke="#c8a080" stroke-width="0.8"/>
<line x1="239.2" y1="942.9" x2="243.6" y2="938.5" stroke="#c8a080" stroke-width="0.8"/>
<text x="240" y="938.7" fill="#222" stroke="#222" font-size="6.3">1</text>
<text x="254.6" y="943.1" fill="#3766a0" stroke="#3766a0" font-size="6.5">1</text>
<text x="249" y="927.6" fill="#2a2a9a" stroke="#2a2a9a" font-size="6.5">H5</text>
<text x="249" y="959.6" fill="#2a2a9a" stroke="#2a2a9a" font-size="6.5">H2.0MM</text>
<circle cx="256.4" cy="979.6" r="7.6" fill="none" stroke="#3434ff" stroke-width="1"/>
<line x1="241.4" y1="979.6" x2="248.8" y2="979.6" stroke="#ff3030" stroke-width="1"/>
<line x1="239.2" y1="977.4" x2="243.6" y2="981.8" stroke="#c8a080" stroke-width="0.8"/>
<line x1="239.2" y1="981.8" x2="243.6" y2="977.4" stroke="#c8a080" stroke-width="0.8"/>
<text x="240" y="977.6" fill="#222" stroke="#222" font-size="6.3">1</text>
<text x="254.6" y="982" fill="#3766a0" stroke="#3766a0" font-size="6.5">1</text>
<text x="249" y="965.9" fill="#2a2a9a" stroke="#2a2a9a" font-size="6.5">H4</text>
<text x="249" y="998.2" fill="#2a2a9a" stroke="#2a2a9a" font-size="6.5">H2.0MM</text>
<polyline points="388.8,894.4 637.8,894.4" fill="none" stroke="#9a3a6e" stroke-width="1"/>
<text x="398.4" y="892.7" fill="#ff0000" stroke="#ff0000" font-size="6.5">SD0-MISO-IO2</text>
<polyline points="388.8,901.7 637.8,901.7" fill="none" stroke="#9a3a6e" stroke-width="1"/>
<text x="398.4" y="900" fill="#ff0000" stroke="#ff0000" font-size="6.5">CLK-SCK-IO14</text>
<polyline points="388.8,909.3 637.8,909.3" fill="none" stroke="#9a3a6e" stroke-width="1"/>
<text x="398.4" y="907.6" fill="#ff0000" stroke="#ff0000" font-size="6.5">SD3-CS-IO13</text>
<polyline points="388.8,917.3 637.8,917.3" fill="none" stroke="#9a3a6e" stroke-width="1"/>
<text x="398.4" y="915.6" fill="#ff0000" stroke="#ff0000" font-size="6.5">CMD-MOSI-IO15</text>
<polyline points="466.6,917.3 466.6,948.6" fill="none" stroke="#9a3a6e" stroke-width="1"/>
<line x1="466.6" y1="948.6" x2="466.6" y2="956.6" stroke="#ff3030" stroke-width="1"/>
<line x1="466.6" y1="956.6" x2="466.6" y2="963.8" stroke="#3434ff" stroke-width="1"/>
<path d="M460.6 963.8 L472.6 963.8 L466.6 971.8 Z M460.6 979.8 L472.6 979.8 L466.6 971.8 Z" fill="#0000ff"/>
<polyline points="460.6,974 462.2,971.8 471,971.8 472.6,969.6" fill="none" stroke="#3434ff" stroke-width="0.9"/>
<line x1="466.6" y1="979.8" x2="466.6" y2="987" stroke="#3434ff" stroke-width="1"/>
<line x1="466.6" y1="987" x2="466.6" y2="995" stroke="#ff3030" stroke-width="1"/>
<polyline points="466.6,995 466.6,1026.3" fill="none" stroke="#9a3a6e" stroke-width="1"/>
<polyline points="482.2,909.3 482.2,948.6" fill="none" stroke="#9a3a6e" stroke-width="1"/>
<line x1="482.2" y1="948.6" x2="482.2" y2="956.6" stroke="#ff3030" stroke-width="1"/>
<line x1="482.2" y1="956.6" x2="482.2" y2="963.8" stroke="#3434ff" stroke-width="1"/>
<path d="M476.2 963.8 L488.2 963.8 L482.2 971.8 Z M476.2 979.8 L488.2 979.8 L482.2 971.8 Z" fill="#0000ff"/>
<polyline points="476.2,974 477.8,971.8 486.6,971.8 488.2,969.6" fill="none" stroke="#3434ff" stroke-width="0.9"/>
<line x1="482.2" y1="979.8" x2="482.2" y2="987" stroke="#3434ff" stroke-width="1"/>
<line x1="482.2" y1="987" x2="482.2" y2="995" stroke="#ff3030" stroke-width="1"/>
<polyline points="482.2,995 482.2,1010.6" fill="none" stroke="#9a3a6e" stroke-width="1"/>
<circle cx="466.6" cy="917.3" r="1.7" fill="#ff00ff"/>
<circle cx="482.2" cy="909.3" r="1.7" fill="#ff00ff"/>
<polyline points="451.3,940.5 513.1,940.5" fill="none" stroke="#9a3a6e" stroke-width="1"/>
<circle cx="466.6" cy="940.5" r="1.7" fill="#ff00ff"/>
<circle cx="482.2" cy="940.5" r="1.7" fill="#ff00ff"/>
<polyline points="466.6,1010.6 482.2,1010.6" fill="none" stroke="#9a3a6e" stroke-width="1"/>
<circle cx="466.6" cy="1010.6" r="1.7" fill="#ff00ff"/>
<line x1="458.6" y1="1026.3" x2="474.6" y2="1026.3" stroke="#ff3030" stroke-width="1"/>
<line x1="461.1" y1="1028.6" x2="472.1" y2="1028.6" stroke="#ff3030" stroke-width="1"/>
<line x1="463.6" y1="1030.9" x2="469.6" y2="1030.9" stroke="#ff3030" stroke-width="1"/>
<line x1="465.6" y1="1033.2" x2="467.6" y2="1033.2" stroke="#ff3030" stroke-width="1"/>
<polyline points="451.3,940.5 451.3,956.6" fill="none" stroke="#9a3a6e" stroke-width="1"/>
<line x1="451.3" y1="956.6" x2="451.3" y2="964.6" stroke="#ff3030" stroke-width="1"/>
<polyline points="451.3,964.6 448.7,966.8 453.9,971.43 448.7,975.8 453.9,980.17 448.7,984.8 451.3,987" fill="none" stroke="#3434ff" stroke-width="1"/>
<line x1="451.3" y1="987" x2="451.3" y2="995" stroke="#ff3030" stroke-width="1"/>
<polyline points="451.3,995 451.3,1013.9" fill="none" stroke="#9a3a6e" stroke-width="1"/>
<circle cx="451.3" cy="1016.2" r="2.3" fill="none" stroke="#ff3030" stroke-width="1"/>
<text x="443.8" y="1024.7" fill="#222" stroke="#222" font-size="6.5">+3V3</text>
<polyline points="513.1,940.5 513.1,956.6" fill="none" stroke="#9a3a6e" stroke-width="1"/>
<line x1="513.1" y1="956.6" x2="513.1" y2="964.6" stroke="#ff3030" stroke-width="1"/>
<polyline points="513.1,964.6 510.5,966.8 515.7,971.43 510.5,975.8 515.7,980.17 510.5,984.8 513.1,987" fill="none" stroke="#3434ff" stroke-width="1"/>
<line x1="513.1" y1="987" x2="513.1" y2="995" stroke="#ff3030" stroke-width="1"/>
<polyline points="513.1,995 513.1,1010.6" fill="none" stroke="#9a3a6e" stroke-width="1"/>
<polyline points="528.6,901.7 528.6,956.6" fill="none" stroke="#9a3a6e" stroke-width="1"/>
<line x1="528.6" y1="956.6" x2="528.6" y2="964.6" stroke="#ff3030" stroke-width="1"/>
<polyline points="528.6,964.6 526,966.8 531.2,971.43 526,975.8 531.2,980.17 526,984.8 528.6,987" fill="none" stroke="#3434ff" stroke-width="1"/>
<line x1="528.6" y1="987" x2="528.6" y2="995" stroke="#ff3030" stroke-width="1"/>
<polyline points="528.6,995 528.6,1028.8" fill="none" stroke="#9a3a6e" stroke-width="1"/>
<polyline points="544.3,894.4 544.3,956.6" fill="none" stroke="#9a3a6e" stroke-width="1"/>
<line x1="544.3" y1="956.6" x2="544.3" y2="964.6" stroke="#ff3030" stroke-width="1"/>
<polyline points="544.3,964.6 541.7,966.8 546.9,971.43 541.7,975.8 546.9,980.17 541.7,984.8 544.3,987" fill="none" stroke="#3434ff" stroke-width="1"/>
<line x1="544.3" y1="987" x2="544.3" y2="995" stroke="#ff3030" stroke-width="1"/>
<polyline points="544.3,995 544.3,1010.6" fill="none" stroke="#9a3a6e" stroke-width="1"/>
<polyline points="513.1,1010.6 544.3,1010.6" fill="none" stroke="#9a3a6e" stroke-width="1"/>
<circle cx="528.6" cy="1010.6" r="1.7" fill="#ff00ff"/>
<circle cx="528.6" cy="901.7" r="1.7" fill="#ff00ff"/>
<circle cx="544.3" cy="894.4" r="1.7" fill="#ff00ff"/>
<circle cx="528.6" cy="1031.1" r="2.3" fill="none" stroke="#ff3030" stroke-width="1"/>
<text x="521" y="1040" fill="#222" stroke="#222" font-size="6.5">+3V3</text>
<polyline points="559.9,901.7 559.9,948.6" fill="none" stroke="#9a3a6e" stroke-width="1"/>
<line x1="559.9" y1="948.6" x2="559.9" y2="956.6" stroke="#ff3030" stroke-width="1"/>
<line x1="559.9" y1="956.6" x2="559.9" y2="963.8" stroke="#3434ff" stroke-width="1"/>
<path d="M553.9 963.8 L565.9 963.8 L559.9 971.8 Z M553.9 979.8 L565.9 979.8 L559.9 971.8 Z" fill="#0000ff"/>
<polyline points="553.9,974 555.5,971.8 564.3,971.8 565.9,969.6" fill="none" stroke="#3434ff" stroke-width="0.9"/>
<line x1="559.9" y1="979.8" x2="559.9" y2="987" stroke="#3434ff" stroke-width="1"/>
<line x1="559.9" y1="987" x2="559.9" y2="995" stroke="#ff3030" stroke-width="1"/>
<polyline points="559.9,995 559.9,1026.3" fill="none" stroke="#9a3a6e" stroke-width="1"/>
<polyline points="575.3,894.4 575.3,948.6" fill="none" stroke="#9a3a6e" stroke-width="1"/>
<line x1="575.3" y1="948.6" x2="575.3" y2="956.6" stroke="#ff3030" stroke-width="1"/>
<line x1="575.3" y1="956.6" x2="575.3" y2="963.8" stroke="#3434ff" stroke-width="1"/>
<path d="M569.3 963.8 L581.3 963.8 L575.3 971.8 Z M569.3 979.8 L581.3 979.8 L575.3 971.8 Z" fill="#0000ff"/>
<polyline points="569.3,974 570.9,971.8 579.7,971.8 581.3,969.6" fill="none" stroke="#3434ff" stroke-width="0.9"/>
<line x1="575.3" y1="979.8" x2="575.3" y2="987" stroke="#3434ff" stroke-width="1"/>
<line x1="575.3" y1="987" x2="575.3" y2="995" stroke="#ff3030" stroke-width="1"/>
<polyline points="575.3,995 575.3,1010.6" fill="none" stroke="#9a3a6e" stroke-width="1"/>
<polyline points="559.9,1010.6 575.3,1010.6" fill="none" stroke="#9a3a6e" stroke-width="1"/>
<circle cx="559.9" cy="901.7" r="1.7" fill="#ff00ff"/>
<circle cx="575.3" cy="894.4" r="1.7" fill="#ff00ff"/>
<circle cx="559.9" cy="1010.6" r="1.7" fill="#ff00ff"/>
<line x1="551.9" y1="1026.3" x2="567.9" y2="1026.3" stroke="#ff3030" stroke-width="1"/>
<line x1="554.4" y1="1028.6" x2="565.4" y2="1028.6" stroke="#ff3030" stroke-width="1"/>
<line x1="556.9" y1="1030.9" x2="562.9" y2="1030.9" stroke="#ff3030" stroke-width="1"/>
<line x1="558.9" y1="1033.2" x2="560.9" y2="1033.2" stroke="#ff3030" stroke-width="1"/>
<text x="449.8" y="999.9" font-size="6.75" transform="rotate(-90 449.8 999.9)"><tspan fill="#2a2a9a" stroke="#2a2a9a">R14_NC_</tspan><tspan fill="#222" stroke="#222">R0402</tspan></text>
<text x="511.6" y="999.9" font-size="6.75" transform="rotate(-90 511.6 999.9)"><tspan fill="#2a2a9a" stroke="#2a2a9a">R30_NC_</tspan><tspan fill="#222" stroke="#222">R0402</tspan></text>
<text x="527.1" y="999.9" font-size="6.75" transform="rotate(-90 527.1 999.9)"><tspan fill="#2a2a9a" stroke="#2a2a9a">R31_NC_</tspan><tspan fill="#222" stroke="#222">R0402</tspan></text>
<text x="542.8" y="999.9" font-size="6.75" transform="rotate(-90 542.8 999.9)"><tspan fill="#2a2a9a" stroke="#2a2a9a">R32_NC_</tspan><tspan fill="#222" stroke="#222">R0402</tspan></text>
<text x="496.7" y="963" fill="#2a2a9a" stroke="#2a2a9a" font-size="6.5" transform="rotate(-90 496.7 963)">ED3</text>
<text x="496.7" y="999.9" fill="#222" stroke="#222" font-size="6.5" transform="rotate(-90 496.7 999.9)" letter-spacing="-0.3">R0402</text>
<text x="496.7" y="1038.4" fill="#2a2a9a" stroke="#2a2a9a" font-size="6.5" transform="rotate(-90 496.7 1038.4)">ULC0511C</text>
<text x="504.4" y="963" fill="#2a2a9a" stroke="#2a2a9a" font-size="6.5" transform="rotate(-90 504.4 963)">ED4</text>
<text x="504.4" y="999.9" fill="#222" stroke="#222" font-size="6.5" transform="rotate(-90 504.4 999.9)" letter-spacing="-0.3">R0402</text>
<text x="504.4" y="1038.4" fill="#2a2a9a" stroke="#2a2a9a" font-size="6.5" transform="rotate(-90 504.4 1038.4)">ULC0511C</text>
<text x="590.1" y="963" fill="#2a2a9a" stroke="#2a2a9a" font-size="6.5" transform="rotate(-90 590.1 963)">ED5</text>
<text x="590.1" y="999.9" fill="#222" stroke="#222" font-size="6.5" transform="rotate(-90 590.1 999.9)" letter-spacing="-0.3">R0402</text>
<text x="590.1" y="1038.4" fill="#2a2a9a" stroke="#2a2a9a" font-size="6.5" transform="rotate(-90 590.1 1038.4)">ULC0511C</text>
<text x="597.8" y="963" fill="#2a2a9a" stroke="#2a2a9a" font-size="6.5" transform="rotate(-90 597.8 963)">ED6</text>
<text x="597.8" y="999.9" fill="#222" stroke="#222" font-size="6.5" transform="rotate(-90 597.8 999.9)" letter-spacing="-0.3">R0402</text>
<text x="597.8" y="1038.4" fill="#2a2a9a" stroke="#2a2a9a" font-size="6.5" transform="rotate(-90 597.8 1038.4)">ULC0511C</text>
<rect x="684.4" y="862.8" width="69.9" height="46.6" fill="none" stroke="#444" stroke-width="1"/>
<text x="692.3" y="876.7" fill="#666" stroke="#666" font-size="6.4" style='font-family:"Liberation Mono",monospace'>TF</text>
<text x="692.3" y="884.7" fill="#777" stroke="#777" font-size="6.35" style='font-family:"Liberation Mono",monospace'>SD3-CS-IO13</text>
<text x="692.3" y="892.25" fill="#777" stroke="#777" font-size="6.35" style='font-family:"Liberation Mono",monospace'>CMD-MOSI-IO15</text>
<text x="692.3" y="899.8" fill="#777" stroke="#777" font-size="6.35" style='font-family:"Liberation Mono",monospace'>CLK-SCK-IO14</text>
<text x="692.3" y="907.35" fill="#777" stroke="#777" font-size="6.35" style='font-family:"Liberation Mono",monospace'>SD0-MISO-IO2</text>
<path d="M700.5 871.5 h5.5 M700.5 873.5 h5.5 M700.5 875.5 h5.5 M703.2 870.5 v6.5 M701.3 871 v5" stroke="#888" stroke-width="0.6" fill="none"/>
<path d="M707.8 871.5 h5.5 M707.8 873.5 h5.5 M707.8 875.5 h5.5 M710.5 870.5 v6.5 M708.6 871 v5" stroke="#888" stroke-width="0.6" fill="none"/>
<path d="M715.1 871.5 h5.5 M715.1 873.5 h5.5 M715.1 875.5 h5.5 M717.8 870.5 v6.5 M715.9 871 v5" stroke="#888" stroke-width="0.6" fill="none"/>
<rect x="894.3" y="917.1" width="62" height="116.6" fill="none" stroke="#3434ff" stroke-width="1.1"/>
<text x="894.5" y="900.3" fill="#2a2a9a" stroke="#2a2a9a" font-size="6.5">J4</text>
<text x="894.5" y="908.1" fill="#2a2a9a" stroke="#2a2a9a" font-size="6.5">MICROSD/TF_SLOT</text>
<text x="894.5" y="915.7" fill="#222" stroke="#222" font-size="6.5">TF-mp3</text>
<line x1="871.2" y1="932.9" x2="894.3" y2="932.9" stroke="#ff3030" stroke-width="1"/>
<text x="889.3" y="931.8" fill="#222" stroke="#222" font-size="6.3" text-anchor="end">1</text>
<text x="898.5" y="936.2" fill="#3766a0" stroke="#3766a0" font-size="7">DAT2</text>
<polyline points="808.2,932.9 871.2,932.9" fill="none" stroke="#9a3a6e" stroke-width="1"/>
<text x="818.1" y="931.3" fill="#ff0000" stroke="#ff0000" font-size="6.5">SD2-IO12</text>
<line x1="871.2" y1="940.7" x2="894.3" y2="940.7" stroke="#ff3030" stroke-width="1"/>
<text x="889.3" y="939.6" fill="#222" stroke="#222" font-size="6.3" text-anchor="end">2</text>
<text x="898.5" y="944" fill="#3766a0" stroke="#3766a0" font-size="7">DAT3</text>
<polyline points="808.2,940.7 871.2,940.7" fill="none" stroke="#9a3a6e" stroke-width="1"/>
<text x="818.1" y="939.1" fill="#ff0000" stroke="#ff0000" font-size="6.5">SD3-CS-IO13</text>
<line x1="871.2" y1="948.6" x2="894.3" y2="948.6" stroke="#ff3030" stroke-width="1"/>
<text x="889.3" y="947.5" fill="#222" stroke="#222" font-size="6.3" text-anchor="end">3</text>
<text x="898.5" y="951.9" fill="#3766a0" stroke="#3766a0" font-size="7">CMD</text>
<polyline points="808.2,948.6 871.2,948.6" fill="none" stroke="#9a3a6e" stroke-width="1"/>
<text x="818.1" y="947" fill="#ff0000" stroke="#ff0000" font-size="6.5">CMD-MOSI-IO15</text>
<line x1="871.2" y1="963.8" x2="894.3" y2="963.8" stroke="#ff3030" stroke-width="1"/>
<text x="889.3" y="962.7" fill="#222" stroke="#222" font-size="6.3" text-anchor="end">4</text>
<text x="898.5" y="967.1" fill="#3766a0" stroke="#3766a0" font-size="7">VDD</text>
<line x1="871.2" y1="971.7" x2="894.3" y2="971.7" stroke="#ff3030" stroke-width="1"/>
<text x="889.3" y="970.6" fill="#222" stroke="#222" font-size="6.3" text-anchor="end">5</text>
<text x="898.5" y="975" fill="#3766a0" stroke="#3766a0" font-size="7">CLK</text>
<polyline points="808.2,971.7 871.2,971.7" fill="none" stroke="#9a3a6e" stroke-width="1"/>
<text x="818.1" y="970.1" fill="#ff0000" stroke="#ff0000" font-size="6.5">CLK-SCK-IO14</text>
<line x1="871.2" y1="979.5" x2="894.3" y2="979.5" stroke="#ff3030" stroke-width="1"/>
<text x="889.3" y="978.4" fill="#222" stroke="#222" font-size="6.3" text-anchor="end">6</text>
<text x="898.5" y="982.8" fill="#3766a0" stroke="#3766a0" font-size="7">VSS2</text>
<line x1="871.2" y1="987.5" x2="894.3" y2="987.5" stroke="#ff3030" stroke-width="1"/>
<text x="889.3" y="986.4" fill="#222" stroke="#222" font-size="6.3" text-anchor="end">7</text>
<text x="898.5" y="990.8" fill="#3766a0" stroke="#3766a0" font-size="7">DAT0</text>
<polyline points="808.2,987.5 871.2,987.5" fill="none" stroke="#9a3a6e" stroke-width="1"/>
<text x="818.1" y="985.9" fill="#ff0000" stroke="#ff0000" font-size="6.5">SD0-MISO-IO2</text>
<line x1="871.2" y1="995.3" x2="894.3" y2="995.3" stroke="#ff3030" stroke-width="1"/>
<text x="889.3" y="994.2" fill="#222" stroke="#222" font-size="6.3" text-anchor="end">8</text>
<text x="898.5" y="998.6" fill="#3766a0" stroke="#3766a0" font-size="7">DAT1</text>
<polyline points="808.2,995.3 871.2,995.3" fill="none" stroke="#9a3a6e" stroke-width="1"/>
<text x="818.1" y="993.7" fill="#ff0000" stroke="#ff0000" font-size="6.5">SD1-IO4</text>
<line x1="871.2" y1="1018.4" x2="894.3" y2="1018.4" stroke="#ff3030" stroke-width="1"/>
<text x="889.3" y="1017.3" fill="#222" stroke="#222" font-size="6.3" text-anchor="end">9</text>
<text x="898.5" y="1021.7" fill="#3766a0" stroke="#3766a0" font-size="7">CD#</text>
<line x1="871.2" y1="1026.3" x2="894.3" y2="1026.3" stroke="#ff3030" stroke-width="1"/>
<text x="889.3" y="1025.2" fill="#222" stroke="#222" font-size="6.3" text-anchor="end">10</text>
<text x="898.5" y="1029.6" fill="#3766a0" stroke="#3766a0" font-size="7">GND1</text>
<polyline points="762,963.8 871.2,963.8" fill="none" stroke="#9a3a6e" stroke-width="1"/>
<polyline points="762,953 762,981.2" fill="none" stroke="#9a3a6e" stroke-width="1"/>
<circle cx="762" cy="950.7" r="2.3" fill="none" stroke="#ff3030" stroke-width="1"/>
<circle cx="762" cy="963.8" r="1.7" fill="#ff00ff"/>
<text x="750" y="945.5" fill="#222" stroke="#222" font-size="6.5">+3V3</text>
<line x1="755" y1="981.2" x2="769" y2="981.2" stroke="#3434ff" stroke-width="1.1"/>
<line x1="755" y1="985.8" x2="769" y2="985.8" stroke="#3434ff" stroke-width="1.1"/>
<line x1="762" y1="972" x2="762" y2="981.2" stroke="#ff3030" stroke-width="1"/>
<line x1="762" y1="985.8" x2="762" y2="995" stroke="#ff3030" stroke-width="1"/>
<polyline points="762,995 762,1002.6" fill="none" stroke="#9a3a6e" stroke-width="1"/>
<line x1="754" y1="1002.6" x2="770" y2="1002.6" stroke="#ff3030" stroke-width="1"/>
<line x1="756.5" y1="1004.9" x2="767.5" y2="1004.9" stroke="#ff3030" stroke-width="1"/>
<line x1="759" y1="1007.2" x2="765" y2="1007.2" stroke="#ff3030" stroke-width="1"/>
<line x1="761" y1="1009.5" x2="763" y2="1009.5" stroke="#ff3030" stroke-width="1"/>
<text x="762" y="1016.9" fill="#222" stroke="#222" font-size="6.5" text-anchor="middle">GND</text>
<text x="774.6" y="985.4" fill="#2a2a9a" stroke="#2a2a9a" font-size="6.5">C26</text>
<text x="774.6" y="994.8" fill="#2a2a9a" stroke="#2a2a9a" font-size="6.5">100nF</text>
<text x="774.6" y="1004.3" fill="#222" stroke="#222" font-size="6.5">C0402</text>
<polyline points="871.2,979.5 855.1,979.5 855.1,1041.5 979.4,1041.5 979.4,1056.8" fill="none" stroke="#9a3a6e" stroke-width="1"/>
<polyline points="855.1,1018.4 871.2,1018.4" fill="none" stroke="#9a3a6e" stroke-width="1"/>
<polyline points="855.1,1026.3 871.2,1026.3" fill="none" stroke="#9a3a6e" stroke-width="1"/>
<circle cx="855.1" cy="1018.4" r="1.7" fill="#ff00ff"/>
<circle cx="855.1" cy="1026.3" r="1.7" fill="#ff00ff"/>
<line x1="971.4" y1="1056.8" x2="987.4" y2="1056.8" stroke="#ff3030" stroke-width="1"/>
<line x1="973.9" y1="1059.1" x2="984.9" y2="1059.1" stroke="#ff3030" stroke-width="1"/>
<line x1="976.4" y1="1061.4" x2="982.4" y2="1061.4" stroke="#ff3030" stroke-width="1"/>
<line x1="978.4" y1="1063.7" x2="980.4" y2="1063.7" stroke="#ff3030" stroke-width="1"/>
<text x="979.4" y="1070.4" fill="#222" stroke="#222" font-size="6.5" text-anchor="middle">GND</text>
<line x1="847.1" y1="855.2" x2="863.1" y2="855.2" stroke="#ff3030" stroke-width="1"/>
<line x1="849.6" y1="853" x2="860.6" y2="853" stroke="#ff3030" stroke-width="1"/>
<line x1="852.1" y1="850.9" x2="858.1" y2="850.9" stroke="#ff3030" stroke-width="1"/>
<line x1="854.1" y1="848.6" x2="856.1" y2="848.6" stroke="#ff3030" stroke-width="1"/>
<polyline points="855.1,855.2 855.1,866" fill="none" stroke="#9a3a6e" stroke-width="1"/>
<line x1="855.1" y1="866" x2="855.1" y2="872.5" stroke="#ff3030" stroke-width="1"/>
<line x1="855.1" y1="872.5" x2="855.1" y2="878.3" stroke="#3434ff" stroke-width="1"/>
<path d="M849.1 878.3 L861.1 878.3 L855.1 886.3 Z M849.1 894.3 L861.1 894.3 L855.1 886.3 Z" fill="#0000ff"/>
<polyline points="849.1,888.5 850.7,886.3 859.5,886.3 861.1,884.1" fill="none" stroke="#3434ff" stroke-width="0.9"/>
<line x1="855.1" y1="894.3" x2="855.1" y2="900" stroke="#3434ff" stroke-width="1"/>
<line x1="855.1" y1="900" x2="855.1" y2="907" stroke="#ff3030" stroke-width="1"/>
<polyline points="855.1,907 855.1,932.9" fill="none" stroke="#9a3a6e" stroke-width="1"/>
<circle cx="855.1" cy="916.7" r="1.7" fill="#ff00ff"/>
<circle cx="855.1" cy="932.9" r="1.7" fill="#ff00ff"/>
<circle cx="839.7" cy="850" r="2.3" fill="none" stroke="#ff3030" stroke-width="1"/>
<text x="830.3" y="843.6" fill="#222" stroke="#222" font-size="6.5">+3V3</text>
<polyline points="839.7,852.3 839.7,864" fill="none" stroke="#9a3a6e" stroke-width="1"/>
<line x1="839.7" y1="864" x2="839.7" y2="878.3" stroke="#ff3030" stroke-width="1"/>
<polyline points="839.7,878.3 836.7,880.15 842.7,884.06 836.7,887.75 842.7,891.44 836.7,895.35 839.7,897.2" fill="none" stroke="#3434ff" stroke-width="1"/>
<line x1="839.7" y1="897.2" x2="839.7" y2="905" stroke="#ff3030" stroke-width="1"/>
<polyline points="839.7,905 839.7,916.7 855.1,916.7" fill="none" stroke="#9a3a6e" stroke-width="1"/>
<text x="838.2" y="915" font-size="6.75" transform="rotate(-90 838.2 915)"><tspan fill="#2a2a9a" stroke="#2a2a9a">R37_NC_</tspan><tspan fill="#222" stroke="#222">R0402</tspan></text>
<text x="869.6" y="868.8" fill="#2a2a9a" stroke="#2a2a9a" font-size="6.5" transform="rotate(-90 869.6 868.8)">ED9</text>
<text x="869.6" y="890.9" fill="#222" stroke="#222" font-size="6.5" transform="rotate(-90 869.6 890.9)" letter-spacing="-0.3">R0402</text>
<text x="869.6" y="929.7" fill="#2a2a9a" stroke="#2a2a9a" font-size="6.5" transform="rotate(-90 869.6 929.7)">ULC0511C</text>
<polyline points="847.5,995.3 847.5,1057.3" fill="none" stroke="#9a3a6e" stroke-width="1"/>
<circle cx="847.5" cy="995.3" r="1.7" fill="#ff00ff"/>
<circle cx="847.5" cy="1041.5" r="1.7" fill="#ff00ff"/>
<line x1="847.5" y1="1057.3" x2="847.5" y2="1065" stroke="#ff3030" stroke-width="1"/>
<line x1="847.5" y1="1065" x2="847.5" y2="1073" stroke="#3434ff" stroke-width="1"/>
<path d="M841.5 1072.8 L853.5 1072.8 L847.5 1080.8 Z M841.5 1088.8 L853.5 1088.8 L847.5 1080.8 Z" fill="#0000ff"/>
<polyline points="841.5,1083 843.1,1080.8 851.9,1080.8 853.5,1078.6" fill="none" stroke="#3434ff" stroke-width="0.9"/>
<line x1="847.5" y1="1088.5" x2="847.5" y2="1096.1" stroke="#3434ff" stroke-width="1"/>
<line x1="847.5" y1="1096.1" x2="847.5" y2="1103.8" stroke="#ff3030" stroke-width="1"/>
<polyline points="847.5,1103.8 847.5,1135.5" fill="none" stroke="#9a3a6e" stroke-width="1"/>
<line x1="839.5" y1="1135.5" x2="855.5" y2="1135.5" stroke="#ff3030" stroke-width="1"/>
<line x1="842" y1="1137.8" x2="853" y2="1137.8" stroke="#ff3030" stroke-width="1"/>
<line x1="844.5" y1="1140.1" x2="850.5" y2="1140.1" stroke="#ff3030" stroke-width="1"/>
<line x1="846.5" y1="1142.4" x2="848.5" y2="1142.4" stroke="#ff3030" stroke-width="1"/>
<polyline points="847.5,1041.5 832,1041.5 832,1065" fill="none" stroke="#9a3a6e" stroke-width="1"/>
<line x1="832" y1="1065" x2="832" y2="1072.6" stroke="#ff3030" stroke-width="1"/>
<polyline points="832,1072.6 829,1074.9 835,1079.77 829,1084.35 835,1088.93 829,1093.8 832,1096.1" fill="none" stroke="#3434ff" stroke-width="1"/>
<line x1="832" y1="1096.1" x2="832" y2="1104.3" stroke="#ff3030" stroke-width="1"/>
<polyline points="832,1104.3 832,1138.1" fill="none" stroke="#9a3a6e" stroke-width="1"/>
<circle cx="832" cy="1140.4" r="2.3" fill="none" stroke="#ff3030" stroke-width="1"/>
<text x="825.1" y="1149.1" fill="#222" stroke="#222" font-size="6.5">+3V3</text>
<text x="829.5" y="1109" font-size="6.75" transform="rotate(-90 829.5 1109)"><tspan fill="#2a2a9a" stroke="#2a2a9a">R38_NC_</tspan><tspan fill="#222" stroke="#222">R0402</tspan></text>
<text x="877.7" y="1074.6" fill="#2a2a9a" stroke="#2a2a9a" font-size="6.5" transform="rotate(-90 877.7 1074.6)">ED10</text>
<text x="877.7" y="1109" fill="#222" stroke="#222" font-size="6.5" transform="rotate(-90 877.7 1109)" letter-spacing="-0.3">R0402</text>
<text x="877.7" y="1147.5" fill="#2a2a9a" stroke="#2a2a9a" font-size="6.5" transform="rotate(-90 877.7 1147.5)">ULC0511C</text>
<polyline points="925.2,396.3 1026.2,396.3" fill="none" stroke="#9a3a6e" stroke-width="1"/>
<polyline points="1065.5,396.3 1182.1,396.3" fill="none" stroke="#9a3a6e" stroke-width="1"/>
<line x1="1026.2" y1="396.3" x2="1034.3" y2="396.3" stroke="#ff3030" stroke-width="1"/>
<polyline points="1034.3,396.3 1036.6,398.6 1041.47,394 1046.05,398.6 1050.63,394 1055.5,398.6 1057.8,396.3" fill="none" stroke="#3434ff" stroke-width="1"/>
<line x1="1057.8" y1="396.3" x2="1065.5" y2="396.3" stroke="#ff3030" stroke-width="1"/>
<text x="926.4" y="394.6" fill="#ff0000" stroke="#ff0000" font-size="6.5">IO32</text>
<text x="1176.1" y="394.6" fill="#ff0000" stroke="#ff0000" font-size="6.5" text-anchor="end">HPDIO2</text>
<text x="1018.8" y="387.6" fill="#2a2a9a" stroke="#2a2a9a" font-size="6.5">R15</text>
<text x="1034.5" y="387.6" fill="#222" stroke="#222" font-size="6.5" letter-spacing="-0.3">R0402</text>
<text x="1057.8" y="387.6" fill="#2a2a9a" stroke="#2a2a9a" font-size="6.5">22R</text>
<polyline points="925.2,419.4 1026.2,419.4" fill="none" stroke="#9a3a6e" stroke-width="1"/>
<polyline points="1065.5,419.4 1182.1,419.4" fill="none" stroke="#9a3a6e" stroke-width="1"/>
<line x1="1026.2" y1="419.4" x2="1034.3" y2="419.4" stroke="#ff3030" stroke-width="1"/>
<polyline points="1034.3,419.4 1036.6,421.7 1041.47,417.1 1046.05,421.7 1050.63,417.1 1055.5,421.7 1057.8,419.4" fill="none" stroke="#3434ff" stroke-width="1"/>
<line x1="1057.8" y1="419.4" x2="1065.5" y2="419.4" stroke="#ff3030" stroke-width="1"/>
<text x="926.4" y="417.7" fill="#ff0000" stroke="#ff0000" font-size="6.5">IO33</text>
<text x="1176.1" y="417.7" fill="#ff0000" stroke="#ff0000" font-size="6.5" text-anchor="end">HPDIO1</text>
<text x="1018.8" y="410.7" fill="#2a2a9a" stroke="#2a2a9a" font-size="6.5">R16</text>
<text x="1034.5" y="410.7" fill="#222" stroke="#222" font-size="6.5" letter-spacing="-0.3">R0402</text>
<text x="1057.8" y="410.7" fill="#2a2a9a" stroke="#2a2a9a" font-size="6.5">22R</text>
<polyline points="925.2,458.3 1026.2,458.3" fill="none" stroke="#9a3a6e" stroke-width="1"/>
<polyline points="1065.5,458.3 1182.1,458.3" fill="none" stroke="#9a3a6e" stroke-width="1"/>
<line x1="1026.2" y1="458.3" x2="1034.3" y2="458.3" stroke="#ff3030" stroke-width="1"/>
<polyline points="1034.3,458.3 1036.6,460.6 1041.47,456 1046.05,460.6 1050.63,456 1055.5,460.6 1057.8,458.3" fill="none" stroke="#3434ff" stroke-width="1"/>
<line x1="1057.8" y1="458.3" x2="1065.5" y2="458.3" stroke="#ff3030" stroke-width="1"/>
<text x="926.4" y="456.6" fill="#ff0000" stroke="#ff0000" font-size="6.5">IO22</text>
<text x="1176.1" y="456.6" fill="#ff0000" stroke="#ff0000" font-size="6.5" text-anchor="end">D0</text>
<text x="1018.8" y="449.6" fill="#2a2a9a" stroke="#2a2a9a" font-size="6.5">R12</text>
<text x="1034.5" y="449.6" fill="#222" stroke="#222" font-size="6.5" letter-spacing="-0.3">R0402</text>
<text x="1057.8" y="449.6" fill="#2a2a9a" stroke="#2a2a9a" font-size="6.5">22R</text>
<polyline points="925.2,481.6 1026.2,481.6" fill="none" stroke="#9a3a6e" stroke-width="1"/>
<polyline points="1065.5,481.6 1182.1,481.6" fill="none" stroke="#9a3a6e" stroke-width="1"/>
<line x1="1026.2" y1="481.6" x2="1034.3" y2="481.6" stroke="#ff3030" stroke-width="1"/>
<polyline points="1034.3,481.6 1036.6,483.9 1041.47,479.3 1046.05,483.9 1050.63,479.3 1055.5,483.9 1057.8,481.6" fill="none" stroke="#3434ff" stroke-width="1"/>
<line x1="1057.8" y1="481.6" x2="1065.5" y2="481.6" stroke="#ff3030" stroke-width="1"/>
<text x="926.4" y="479.9" fill="#ff0000" stroke="#ff0000" font-size="6.5">IO21</text>
<text x="1176.1" y="479.9" fill="#ff0000" stroke="#ff0000" font-size="6.5" text-anchor="end">D1</text>
<text x="1018.8" y="472.9" fill="#2a2a9a" stroke="#2a2a9a" font-size="6.5">R13</text>
<text x="1034.5" y="472.9" fill="#222" stroke="#222" font-size="6.5" letter-spacing="-0.3">R0402</text>
<text x="1057.8" y="472.9" fill="#2a2a9a" stroke="#2a2a9a" font-size="6.5">22R</text>
<line x1="1228.5" y1="466.9" x2="1228.5" y2="481.9" stroke="#ff3030" stroke-width="1"/>
<line x1="1226.2" y1="469.3" x2="1226.2" y2="479.5" stroke="#ff3030" stroke-width="1"/>
<line x1="1223.9" y1="471.7" x2="1223.9" y2="477.1" stroke="#ff3030" stroke-width="1"/>
<line x1="1221.6" y1="473.4" x2="1221.6" y2="475.4" stroke="#ff3030" stroke-width="1"/>
<polyline points="1228.5,474.4 1283.3,474.4" fill="none" stroke="#9a3a6e" stroke-width="1"/>
<line x1="1283.3" y1="474.4" x2="1290.3" y2="474.4" stroke="#ff3030" stroke-width="1"/>
<line x1="1290.3" y1="474.4" x2="1306.5" y2="474.4" stroke="#3434ff" stroke-width="1"/>
<line x1="1306.5" y1="466.7" x2="1306.5" y2="482.1" stroke="#3434ff" stroke-width="1.1"/>
<path d="M1306.5 474.4 L1314.6 466.7 L1314.6 482.1 Z" fill="#0000ff"/>
<line x1="1314.7" y1="474.4" x2="1321.9" y2="474.4" stroke="#3434ff" stroke-width="1"/>
<line x1="1321.9" y1="474.4" x2="1329.7" y2="474.4" stroke="#ff3030" stroke-width="1"/>
<polyline points="1329.7,474.4 1361.3,474.4" fill="none" stroke="#9a3a6e" stroke-width="1"/>
<line x1="1361.3" y1="474.4" x2="1369" y2="474.4" stroke="#ff3030" stroke-width="1"/>
<polyline points="1369,474.4 1371.24,476.7 1375.98,472.1 1380.45,476.7 1384.92,472.1 1389.66,476.7 1391.9,474.4" fill="none" stroke="#3434ff" stroke-width="1"/>
<line x1="1391.9" y1="474.4" x2="1399.6" y2="474.4" stroke="#ff3030" stroke-width="1"/>
<line x1="1293.6" y1="467.6" x2="1298.4" y2="472.4" stroke="#3434ff" stroke-width="1"/>
<path d="M1292.1 466.2 l3.9 0.2 l-3.7 3.7 Z" fill="#3434ff"/>
<line x1="1299.7" y1="467.6" x2="1304.5" y2="472.4" stroke="#3434ff" stroke-width="1"/>
<path d="M1298.2 466.2 l3.9 0.2 l-3.7 3.7 Z" fill="#3434ff"/>
<text x="1291.1" y="461.6" fill="#2a2a9a" stroke="#2a2a9a" font-size="6.5">LED_G4</text>
<text x="1291.1" y="488.3" fill="#2a2a9a" stroke="#2a2a9a" font-size="6.5">RED</text>
<text x="1291.1" y="502.6" fill="#222" stroke="#222" font-size="6.5">LED0603</text>
<text x="1369" y="461.6" fill="#2a2a9a" stroke="#2a2a9a" font-size="6.5">R22</text>
<text x="1369" y="492.9" fill="#2a2a9a" stroke="#2a2a9a" font-size="6.5">2K</text>
<text x="1369" y="502.6" fill="#222" stroke="#222" font-size="6.5">R0402</text>
<line x1="1228.5" y1="520.9" x2="1228.5" y2="535.9" stroke="#ff3030" stroke-width="1"/>
<line x1="1226.2" y1="523.3" x2="1226.2" y2="533.5" stroke="#ff3030" stroke-width="1"/>
<line x1="1223.9" y1="525.7" x2="1223.9" y2="531.1" stroke="#ff3030" stroke-width="1"/>
<line x1="1221.6" y1="527.4" x2="1221.6" y2="529.4" stroke="#ff3030" stroke-width="1"/>
<polyline points="1228.5,528.4 1283.3,528.4" fill="none" stroke="#9a3a6e" stroke-width="1"/>
<line x1="1283.3" y1="528.4" x2="1290.3" y2="528.4" stroke="#ff3030" stroke-width="1"/>
<line x1="1290.3" y1="528.4" x2="1306.5" y2="528.4" stroke="#3434ff" stroke-width="1"/>
<line x1="1306.5" y1="520.7" x2="1306.5" y2="536.1" stroke="#3434ff" stroke-width="1.1"/>
<path d="M1306.5 528.4 L1314.6 520.7 L1314.6 536.1 Z" fill="#0000ff"/>
<line x1="1314.7" y1="528.4" x2="1321.9" y2="528.4" stroke="#3434ff" stroke-width="1"/>
<line x1="1321.9" y1="528.4" x2="1329.7" y2="528.4" stroke="#ff3030" stroke-width="1"/>
<polyline points="1329.7,528.4 1361.3,528.4" fill="none" stroke="#9a3a6e" stroke-width="1"/>
<line x1="1361.3" y1="528.4" x2="1369" y2="528.4" stroke="#ff3030" stroke-width="1"/>
<polyline points="1369,528.4 1371.24,530.7 1375.98,526.1 1380.45,530.7 1384.92,526.1 1389.66,530.7 1391.9,528.4" fill="none" stroke="#3434ff" stroke-width="1"/>
<line x1="1391.9" y1="528.4" x2="1399.6" y2="528.4" stroke="#ff3030" stroke-width="1"/>
<line x1="1293.6" y1="521.6" x2="1298.4" y2="526.4" stroke="#3434ff" stroke-width="1"/>
<path d="M1292.1 520.2 l3.9 0.2 l-3.7 3.7 Z" fill="#3434ff"/>
<line x1="1299.7" y1="521.6" x2="1304.5" y2="526.4" stroke="#3434ff" stroke-width="1"/>
<path d="M1298.2 520.2 l3.9 0.2 l-3.7 3.7 Z" fill="#3434ff"/>
<text x="1291.1" y="515.6" fill="#2a2a9a" stroke="#2a2a9a" font-size="6.5">LED_G3</text>
<text x="1291.1" y="543.1" fill="#2a2a9a" stroke="#2a2a9a" font-size="6.5">GREEN</text>
<text x="1291.1" y="556.6" fill="#222" stroke="#222" font-size="6.5">LED0603</text>
<text x="1369" y="515.6" fill="#2a2a9a" stroke="#2a2a9a" font-size="6.5">R20</text>
<text x="1369" y="547.4" fill="#2a2a9a" stroke="#2a2a9a" font-size="6.5">2K</text>
<text x="1369" y="556.6" fill="#222" stroke="#222" font-size="6.5">R0402</text>
<polyline points="1399.6,474.4 1438.5,474.4 1438.5,455.5" fill="none" stroke="#9a3a6e" stroke-width="1"/>
<circle cx="1438.5" cy="453.2" r="2.3" fill="none" stroke="#ff3030" stroke-width="1"/>
<text x="1430.8" y="447.7" fill="#222" stroke="#222" font-size="6.5">+3V3</text>
<polyline points="1399.6,528.4 1453.9,528.4" fill="none" stroke="#9a3a6e" stroke-width="1"/>
<text x="1408.9" y="527.1" fill="#ff0000" stroke="#ff0000" font-size="6.5">IO25</text>
<polyline points="1034.1,520.4 1128,520.4" fill="none" stroke="#9a3a6e" stroke-width="1"/>
<polyline points="1030,516.4 1026,520.4 1030,524.4" fill="none" stroke="#ff3030" stroke-width="1"/>
<polyline points="1034,516.4 1030,520.4 1034,524.4" fill="none" stroke="#ff3030" stroke-width="1"/>
<text x="982.3" y="523.6" fill="#ff0000" stroke="#ff0000" font-size="6.5">RST/EN</text>
<text x="1090.1" y="518.8" fill="#ff0000" stroke="#ff0000" font-size="6.5">RST/EN</text>
<polyline points="1034.1,536.5 1128,536.5" fill="none" stroke="#9a3a6e" stroke-width="1"/>
<polyline points="1030,532.5 1026,536.5 1030,540.5" fill="none" stroke="#ff3030" stroke-width="1"/>
<polyline points="1034,532.5 1030,536.5 1034,540.5" fill="none" stroke="#ff3030" stroke-width="1"/>
<text x="982.3" y="539.7" fill="#ff0000" stroke="#ff0000" font-size="6.5">IO35</text>
<text x="1066.9" y="534.9" fill="#ff0000" stroke="#ff0000" font-size="6.5">IO35</text>
<polyline points="1034.1,551.7 1128,551.7" fill="none" stroke="#9a3a6e" stroke-width="1"/>
<polyline points="1030,547.7 1026,551.7 1030,555.7" fill="none" stroke="#ff3030" stroke-width="1"/>
<polyline points="1034,547.7 1030,551.7 1034,555.7" fill="none" stroke="#ff3030" stroke-width="1"/>
<text x="982.3" y="554.9" fill="#ff0000" stroke="#ff0000" font-size="6.5">IO0</text>
<text x="1066.9" y="550.1" fill="#ff0000" stroke="#ff0000" font-size="6.5">IO0</text>
<polyline points="1034.1,567.4 1128,567.4" fill="none" stroke="#9a3a6e" stroke-width="1"/>
<polyline points="1030,563.4 1026,567.4 1030,571.4" fill="none" stroke="#ff3030" stroke-width="1"/>
<polyline points="1034,563.4 1030,567.4 1034,571.4" fill="none" stroke="#ff3030" stroke-width="1"/>
<text x="982.3" y="570.6" fill="#ff0000" stroke="#ff0000" font-size="6.5">D1</text>
<text x="1066.9" y="565.8" fill="#ff0000" stroke="#ff0000" font-size="6.5">D1</text>
<polyline points="1034.1,583 1128,583" fill="none" stroke="#9a3a6e" stroke-width="1"/>
<polyline points="1030,579 1026,583 1030,587" fill="none" stroke="#ff3030" stroke-width="1"/>
<polyline points="1034,579 1030,583 1034,587" fill="none" stroke="#ff3030" stroke-width="1"/>
<text x="982.3" y="586.2" fill="#ff0000" stroke="#ff0000" font-size="6.5">D0</text>
<text x="1066.9" y="581.4" fill="#ff0000" stroke="#ff0000" font-size="6.5">D0</text>
<polyline points="1034.1,606.4 1128,606.4" fill="none" stroke="#9a3a6e" stroke-width="1"/>
<polyline points="1030,602.4 1026,606.4 1030,610.4" fill="none" stroke="#ff3030" stroke-width="1"/>
<polyline points="1034,602.4 1030,606.4 1034,610.4" fill="none" stroke="#ff3030" stroke-width="1"/>
<text x="982.3" y="609.6" fill="#ff0000" stroke="#ff0000" font-size="6.5">IO26</text>
<text x="1090.6" y="604.7" fill="#ff0000" stroke="#ff0000" font-size="6.5">IO26</text>
<polyline points="1034.1,614.18 1128,614.18" fill="none" stroke="#9a3a6e" stroke-width="1"/>
<polyline points="1030,610.18 1026,614.18 1030,618.18" fill="none" stroke="#ff3030" stroke-width="1"/>
<polyline points="1034,610.18 1030,614.18 1034,618.18" fill="none" stroke="#ff3030" stroke-width="1"/>
<text x="982.3" y="617.38" fill="#ff0000" stroke="#ff0000" font-size="6.5">IO23</text>
<text x="1090.6" y="612.48" fill="#ff0000" stroke="#ff0000" font-size="6.5">IO23</text>
<polyline points="1034.1,621.96 1128,621.96" fill="none" stroke="#9a3a6e" stroke-width="1"/>
<polyline points="1030,617.96 1026,621.96 1030,625.96" fill="none" stroke="#ff3030" stroke-width="1"/>
<polyline points="1034,617.96 1030,621.96 1034,625.96" fill="none" stroke="#ff3030" stroke-width="1"/>
<text x="982.3" y="625.16" fill="#ff0000" stroke="#ff0000" font-size="6.5">IO18</text>
<text x="1090.6" y="620.26" fill="#ff0000" stroke="#ff0000" font-size="6.5">IO18</text>
<polyline points="1034.1,629.74 1128,629.74" fill="none" stroke="#9a3a6e" stroke-width="1"/>
<polyline points="1030,625.74 1026,629.74 1030,633.74" fill="none" stroke="#ff3030" stroke-width="1"/>
<polyline points="1034,625.74 1030,629.74 1034,633.74" fill="none" stroke="#ff3030" stroke-width="1"/>
<text x="982.3" y="632.94" fill="#ff0000" stroke="#ff0000" font-size="6.5">IO5</text>
<text x="1090.6" y="628.04" fill="#ff0000" stroke="#ff0000" font-size="6.5">IO5</text>
<polyline points="1034.1,637.52 1128,637.52" fill="none" stroke="#9a3a6e" stroke-width="1"/>
<polyline points="1030,633.52 1026,637.52 1030,641.52" fill="none" stroke="#ff3030" stroke-width="1"/>
<polyline points="1034,633.52 1030,637.52 1034,641.52" fill="none" stroke="#ff3030" stroke-width="1"/>
<text x="982.3" y="640.72" fill="#ff0000" stroke="#ff0000" font-size="6.5">IO27</text>
<text x="1090.6" y="635.82" fill="#ff0000" stroke="#ff0000" font-size="6.5">IO27</text>
<polyline points="1034.1,645.3 1128,645.3" fill="none" stroke="#9a3a6e" stroke-width="1"/>
<polyline points="1030,641.3 1026,645.3 1030,649.3" fill="none" stroke="#ff3030" stroke-width="1"/>
<polyline points="1034,641.3 1030,645.3 1034,649.3" fill="none" stroke="#ff3030" stroke-width="1"/>
<text x="982.3" y="648.5" fill="#ff0000" stroke="#ff0000" font-size="6.5">IO19</text>
<text x="1090.6" y="643.6" fill="#ff0000" stroke="#ff0000" font-size="6.5">IO19</text>
<polyline points="1034.6,676.3 1104.3,676.3" fill="none" stroke="#9a3a6e" stroke-width="1"/>
<polyline points="1026.2,672.3 1030.2,676.3 1026.2,680.3" fill="none" stroke="#ff3030" stroke-width="1"/>
<polyline points="1030.2,672.3 1034.2,676.3 1030.2,680.3" fill="none" stroke="#ff3030" stroke-width="1"/>
<text x="984.9" y="677.8" fill="#ff0000" stroke="#ff0000" font-size="6.5">HPDIO1</text>
<text x="1066.9" y="674.7" fill="#ff0000" stroke="#ff0000" font-size="6.5">HPDIO1</text>
<polyline points="1034.6,684.3 1104.3,684.3" fill="none" stroke="#9a3a6e" stroke-width="1"/>
<polyline points="1026.2,680.3 1030.2,684.3 1026.2,688.3" fill="none" stroke="#ff3030" stroke-width="1"/>
<polyline points="1030.2,680.3 1034.2,684.3 1030.2,688.3" fill="none" stroke="#ff3030" stroke-width="1"/>
<text x="984.9" y="685.8" fill="#ff0000" stroke="#ff0000" font-size="6.5">HPDIO2</text>
<text x="1066.9" y="682.7" fill="#ff0000" stroke="#ff0000" font-size="6.5">HPDIO2</text>
<rect x="1174.3" y="816.4" width="39.2" height="108.9" fill="none" stroke="#3434ff" stroke-width="1.1"/>
<text x="1180" y="811.9" fill="#2a2a9a" stroke="#2a2a9a" font-size="6.5">JP1</text>
<text x="1181.2" y="934.8" fill="#2a2a9a" stroke="#2a2a9a" font-size="6.5">L</text>
<line x1="1151" y1="824.3" x2="1174.3" y2="824.3" stroke="#ff3030" stroke-width="1"/>
<text x="1178.9" y="827.1" fill="#3766a0" stroke="#3766a0" font-size="7">1</text>
<line x1="1151" y1="832.08" x2="1174.3" y2="832.08" stroke="#ff3030" stroke-width="1"/>
<text x="1178.9" y="834.88" fill="#3766a0" stroke="#3766a0" font-size="7">2</text>
<line x1="1151" y1="839.86" x2="1174.3" y2="839.86" stroke="#ff3030" stroke-width="1"/>
<text x="1178.9" y="842.66" fill="#3766a0" stroke="#3766a0" font-size="7">3</text>
<line x1="1151" y1="847.64" x2="1174.3" y2="847.64" stroke="#ff3030" stroke-width="1"/>
<text x="1178.9" y="850.44" fill="#3766a0" stroke="#3766a0" font-size="7">4</text>
<line x1="1151" y1="855.42" x2="1174.3" y2="855.42" stroke="#ff3030" stroke-width="1"/>
<text x="1178.9" y="858.22" fill="#3766a0" stroke="#3766a0" font-size="7">5</text>
<line x1="1151" y1="863.2" x2="1174.3" y2="863.2" stroke="#ff3030" stroke-width="1"/>
<text x="1178.9" y="866" fill="#3766a0" stroke="#3766a0" font-size="7">6</text>
<line x1="1151" y1="870.98" x2="1174.3" y2="870.98" stroke="#ff3030" stroke-width="1"/>
<text x="1178.9" y="873.78" fill="#3766a0" stroke="#3766a0" font-size="7">7</text>
<line x1="1151" y1="878.76" x2="1174.3" y2="878.76" stroke="#ff3030" stroke-width="1"/>
<text x="1178.9" y="881.56" fill="#3766a0" stroke="#3766a0" font-size="7">8</text>
<line x1="1151" y1="886.54" x2="1174.3" y2="886.54" stroke="#ff3030" stroke-width="1"/>
<text x="1178.9" y="889.34" fill="#3766a0" stroke="#3766a0" font-size="7">9</text>
<line x1="1151" y1="894.32" x2="1174.3" y2="894.32" stroke="#ff3030" stroke-width="1"/>
<text x="1178.9" y="897.12" fill="#3766a0" stroke="#3766a0" font-size="7">10</text>
<line x1="1151" y1="902.1" x2="1174.3" y2="902.1" stroke="#ff3030" stroke-width="1"/>
<text x="1178.9" y="904.9" fill="#3766a0" stroke="#3766a0" font-size="7">11</text>
<line x1="1151" y1="909.88" x2="1174.3" y2="909.88" stroke="#ff3030" stroke-width="1"/>
<text x="1178.9" y="912.68" fill="#3766a0" stroke="#3766a0" font-size="7">12</text>
<line x1="1151" y1="917.66" x2="1174.3" y2="917.66" stroke="#ff3030" stroke-width="1"/>
<text x="1178.9" y="920.46" fill="#3766a0" stroke="#3766a0" font-size="7">13</text>
<circle cx="1083.3" cy="824.3" r="2.3" fill="none" stroke="#ff3030" stroke-width="1"/>
<text x="1068.8" y="825.5" fill="#222" stroke="#222" font-size="6.5">+5V</text>
<polyline points="1085.6,824.3 1151,824.3" fill="none" stroke="#9a3a6e" stroke-width="1"/>
<circle cx="1098.7" cy="839.86" r="2.3" fill="none" stroke="#ff3030" stroke-width="1"/>
<text x="1068.8" y="841.6" fill="#222" stroke="#222" font-size="6.5">VCC3V3</text>
<polyline points="1101,839.86 1151,839.86" fill="none" stroke="#9a3a6e" stroke-width="1"/>
<polyline points="1112.3,832.08 1151,832.08" fill="none" stroke="#9a3a6e" stroke-width="1"/>
<polyline points="1112.3,847.64 1151,847.64" fill="none" stroke="#9a3a6e" stroke-width="1"/>
<line x1="1112.3" y1="824.3" x2="1112.3" y2="855.42" stroke="#ff3030" stroke-width="1"/>
<line x1="1109.6" y1="826.48" x2="1109.6" y2="837.68" stroke="#ff3030" stroke-width="1"/>
<line x1="1107.4" y1="828.78" x2="1107.4" y2="835.38" stroke="#ff3030" stroke-width="1"/>
<line x1="1105.2" y1="831.28" x2="1105.2" y2="832.88" stroke="#ff3030" stroke-width="1"/>
<line x1="1109.6" y1="842.04" x2="1109.6" y2="853.24" stroke="#ff3030" stroke-width="1"/>
<line x1="1107.4" y1="844.34" x2="1107.4" y2="850.94" stroke="#ff3030" stroke-width="1"/>
<line x1="1105.2" y1="846.84" x2="1105.2" y2="848.44" stroke="#ff3030" stroke-width="1"/>
<line x1="1101" y1="839.86" x2="1104.5" y2="839.86" stroke="#ff3030" stroke-width="1"/>
<polyline points="1104,855.42 1151,855.42" fill="none" stroke="#9a3a6e" stroke-width="1"/>
<text x="1113.8" y="853.7" fill="#ff0000" stroke="#ff0000" font-size="6.5">IO26</text>
<polyline points="1104,863.2 1151,863.2" fill="none" stroke="#9a3a6e" stroke-width="1"/>
<polyline points="1104,870.98 1151,870.98" fill="none" stroke="#9a3a6e" stroke-width="1"/>
<polyline points="1096.3,859.2 1100.3,863.2 1096.3,867.2" fill="none" stroke="#ff3030" stroke-width="1"/>
<polyline points="1100.3,859.2 1104.3,863.2 1100.3,867.2" fill="none" stroke="#ff3030" stroke-width="1"/>
<polyline points="1096.3,866.98 1100.3,870.98 1096.3,874.98" fill="none" stroke="#ff3030" stroke-width="1"/>
<polyline points="1100.3,866.98 1104.3,870.98 1100.3,874.98" fill="none" stroke="#ff3030" stroke-width="1"/>
<text x="1069.6" y="864.7" fill="#ff0000" stroke="#ff0000" font-size="6.5">HPDIO1</text>
<text x="1069.6" y="872.4" fill="#ff0000" stroke="#ff0000" font-size="6.5">HPDIO2</text>
<polyline points="1104,878.76 1151,878.76" fill="none" stroke="#9a3a6e" stroke-width="1"/>
<text x="1105.6" y="876.96" fill="#ff0000" stroke="#ff0000" font-size="6.5">IO19</text>
<polyline points="1104,886.54 1151,886.54" fill="none" stroke="#9a3a6e" stroke-width="1"/>
<text x="1105.6" y="884.74" fill="#ff0000" stroke="#ff0000" font-size="6.5">IO23</text>
<polyline points="1104,894.32 1151,894.32" fill="none" stroke="#9a3a6e" stroke-width="1"/>
<text x="1105.6" y="892.52" fill="#ff0000" stroke="#ff0000" font-size="6.5">IO22</text>
<polyline points="1104,902.1 1151,902.1" fill="none" stroke="#9a3a6e" stroke-width="1"/>
<text x="1105.6" y="900.3" fill="#ff0000" stroke="#ff0000" font-size="6.5">RXD</text>
<polyline points="1104,909.88 1151,909.88" fill="none" stroke="#9a3a6e" stroke-width="1"/>
<text x="1105.6" y="908.08" fill="#ff0000" stroke="#ff0000" font-size="6.5">TXD</text>
<polyline points="1104,917.66 1151,917.66" fill="none" stroke="#9a3a6e" stroke-width="1"/>
<text x="1105.6" y="915.86" fill="#ff0000" stroke="#ff0000" font-size="6.5">IO21</text>
<rect x="1275.3" y="816.5" width="39.1" height="108.8" fill="none" stroke="#3434ff" stroke-width="1.1"/>
<text x="1281.2" y="811.9" fill="#2a2a9a" stroke="#2a2a9a" font-size="6.5">JP2</text>
<text x="1281.8" y="934.7" fill="#2a2a9a" stroke="#2a2a9a" font-size="6.5">R</text>
<line x1="1314.4" y1="824.3" x2="1337.6" y2="824.3" stroke="#ff3030" stroke-width="1"/>
<polyline points="1337.6,824.3 1384.5,824.3" fill="none" stroke="#9a3a6e" stroke-width="1"/>
<text x="1310.6" y="827.1" fill="#3766a0" stroke="#3766a0" font-size="7" text-anchor="end">1</text>
<text x="1338.6" y="822.5" fill="#ff0000" stroke="#ff0000" font-size="6.5">IO25</text>
<line x1="1314.4" y1="832.08" x2="1337.6" y2="832.08" stroke="#ff3030" stroke-width="1"/>
<polyline points="1337.6,832.08 1376.5,832.08" fill="none" stroke="#9a3a6e" stroke-width="1"/>
<text x="1310.6" y="834.88" fill="#3766a0" stroke="#3766a0" font-size="7" text-anchor="end">2</text>
<text x="1346.8" y="830.28" fill="#ff0000" stroke="#ff0000" font-size="6.5">SD1-IO4</text>
<line x1="1314.4" y1="839.86" x2="1337.6" y2="839.86" stroke="#ff3030" stroke-width="1"/>
<polyline points="1337.6,839.86 1384.5,839.86" fill="none" stroke="#9a3a6e" stroke-width="1"/>
<text x="1310.6" y="842.66" fill="#3766a0" stroke="#3766a0" font-size="7" text-anchor="end">3</text>
<text x="1338.6" y="838.06" fill="#ff0000" stroke="#ff0000" font-size="6.5">IO0</text>
<line x1="1314.4" y1="847.64" x2="1337.6" y2="847.64" stroke="#ff3030" stroke-width="1"/>
<polyline points="1337.6,847.64 1400,847.64" fill="none" stroke="#9a3a6e" stroke-width="1"/>
<text x="1310.6" y="850.44" fill="#3766a0" stroke="#3766a0" font-size="7" text-anchor="end">4</text>
<text x="1346.8" y="845.84" fill="#ff0000" stroke="#ff0000" font-size="6.5">SD0-MISO-IO2</text>
<line x1="1314.4" y1="855.42" x2="1337.6" y2="855.42" stroke="#ff3030" stroke-width="1"/>
<polyline points="1337.6,855.42 1400,855.42" fill="none" stroke="#9a3a6e" stroke-width="1"/>
<text x="1310.6" y="858.22" fill="#3766a0" stroke="#3766a0" font-size="7" text-anchor="end">5</text>
<text x="1346.8" y="853.62" fill="#ff0000" stroke="#ff0000" font-size="6.5">CMD-MOSI-IO15</text>
<line x1="1314.4" y1="863.2" x2="1337.6" y2="863.2" stroke="#ff3030" stroke-width="1"/>
<polyline points="1337.6,863.2 1400,863.2" fill="none" stroke="#9a3a6e" stroke-width="1"/>
<text x="1310.6" y="866" fill="#3766a0" stroke="#3766a0" font-size="7" text-anchor="end">6</text>
<text x="1346.8" y="861.4" fill="#ff0000" stroke="#ff0000" font-size="6.5">SD3-CS-IO13</text>
<line x1="1314.4" y1="870.98" x2="1337.6" y2="870.98" stroke="#ff3030" stroke-width="1"/>
<polyline points="1337.6,870.98 1384.5,870.98" fill="none" stroke="#9a3a6e" stroke-width="1"/>
<text x="1310.6" y="873.78" fill="#3766a0" stroke="#3766a0" font-size="7" text-anchor="end">7</text>
<text x="1346.8" y="869.18" fill="#ff0000" stroke="#ff0000" font-size="6.5">SD2-IO12</text>
<line x1="1314.4" y1="878.76" x2="1337.6" y2="878.76" stroke="#ff3030" stroke-width="1"/>
<polyline points="1337.6,878.76 1400,878.76" fill="none" stroke="#9a3a6e" stroke-width="1"/>
<text x="1310.6" y="881.56" fill="#3766a0" stroke="#3766a0" font-size="7" text-anchor="end">8</text>
<text x="1346.8" y="876.96" fill="#ff0000" stroke="#ff0000" font-size="6.5">CLK-SCK-IO14</text>
<line x1="1314.4" y1="886.54" x2="1337.6" y2="886.54" stroke="#ff3030" stroke-width="1"/>
<polyline points="1337.6,886.54 1384.5,886.54" fill="none" stroke="#9a3a6e" stroke-width="1"/>
<text x="1310.6" y="889.34" fill="#3766a0" stroke="#3766a0" font-size="7" text-anchor="end">9</text>
<text x="1370.6" y="884.74" fill="#ff0000" stroke="#ff0000" font-size="6.5">IO35</text>
<line x1="1314.4" y1="894.32" x2="1337.6" y2="894.32" stroke="#ff3030" stroke-width="1"/>
<polyline points="1337.6,894.32 1384.5,894.32" fill="none" stroke="#9a3a6e" stroke-width="1"/>
<text x="1310.6" y="897.12" fill="#3766a0" stroke="#3766a0" font-size="7" text-anchor="end">10</text>
<text x="1370.6" y="892.52" fill="#ff0000" stroke="#ff0000" font-size="6.5">IO34</text>
<line x1="1314.4" y1="902.1" x2="1337.6" y2="902.1" stroke="#ff3030" stroke-width="1"/>
<polyline points="1337.6,902.1 1384.5,902.1" fill="none" stroke="#9a3a6e" stroke-width="1"/>
<text x="1310.6" y="904.9" fill="#3766a0" stroke="#3766a0" font-size="7" text-anchor="end">11</text>
<text x="1370.6" y="900.3" fill="#ff0000" stroke="#ff0000" font-size="6.5">RST/EN</text>
<line x1="1314.4" y1="909.88" x2="1337.6" y2="909.88" stroke="#ff3030" stroke-width="1"/>
<polyline points="1337.6,909.88 1384.5,909.88" fill="none" stroke="#9a3a6e" stroke-width="1"/>
<text x="1310.6" y="912.68" fill="#3766a0" stroke="#3766a0" font-size="7" text-anchor="end">12</text>
<text x="1370.6" y="908.08" fill="#ff0000" stroke="#ff0000" font-size="6.5">S_VN</text>
<line x1="1314.4" y1="917.66" x2="1337.6" y2="917.66" stroke="#ff3030" stroke-width="1"/>
<polyline points="1337.6,917.66 1384.5,917.66" fill="none" stroke="#9a3a6e" stroke-width="1"/>
<text x="1310.6" y="920.46" fill="#3766a0" stroke="#3766a0" font-size="7" text-anchor="end">13</text>
<text x="1370.6" y="915.86" fill="#ff0000" stroke="#ff0000" font-size="6.5">S_VP</text>
</svg></body></html>
